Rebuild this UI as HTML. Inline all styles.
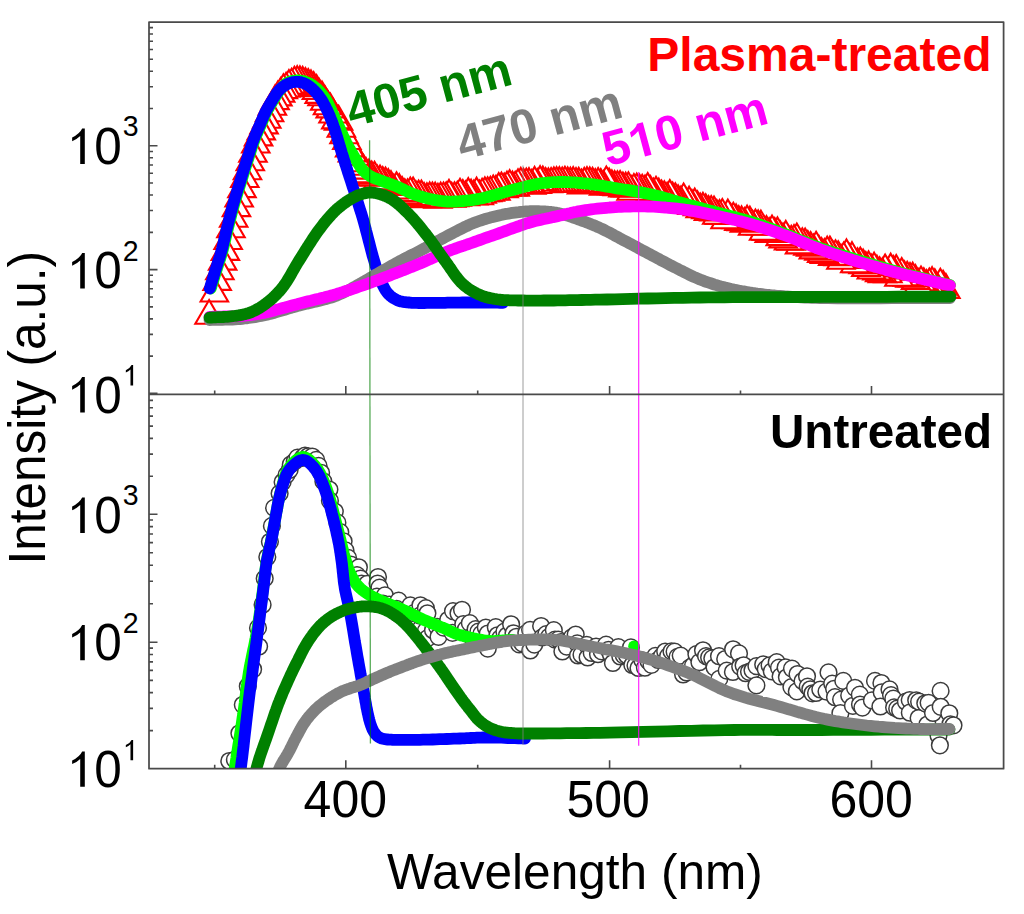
<!DOCTYPE html>
<html><head><meta charset="utf-8"><style>
html,body{margin:0;padding:0;background:#fff;}
body{width:1024px;height:914px;overflow:hidden;font-family:"Liberation Sans",sans-serif;}
svg{display:block;}
</style></head><body>
<svg width="1024" height="914" viewBox="0 0 1024 914">
<defs><clipPath id="ct"><rect x="149.0" y="22.0" width="854.6" height="372.4"/></clipPath><clipPath id="cb"><rect x="149.0" y="394.4" width="854.6" height="374.3"/></clipPath></defs>
<rect width="1024" height="914" fill="#fff"/>
<g clip-path="url(#ct)">
<g fill="#fff" stroke="#ff0000" stroke-width="2.1"><path d="M945.9 274.1L959.6 297.9L932.1 297.9Z"/><path d="M943.1 270.9L956.9 294.7L929.4 294.7Z"/><path d="M940.3 268.8L954.1 292.6L926.6 292.6Z"/><path d="M937.6 273.5L951.3 297.3L923.8 297.3Z"/><path d="M934.8 269.4L948.6 293.2L921.1 293.2Z"/><path d="M932.1 267.2L945.8 291.0L918.3 291.0Z"/><path d="M929.3 268.5L943.1 292.3L915.6 292.3Z"/><path d="M926.5 270.0L940.3 293.9L912.8 293.9Z"/><path d="M923.8 268.3L937.5 292.1L910.0 292.1Z"/><path d="M921.0 266.5L934.8 290.3L907.3 290.3Z"/><path d="M918.3 269.1L932.0 292.9L904.5 292.9Z"/><path d="M915.5 265.2L929.3 289.0L901.8 289.0Z"/><path d="M912.7 262.7L926.5 286.5L899.0 286.5Z"/><path d="M910.0 263.0L923.7 286.8L896.2 286.8Z"/><path d="M907.2 261.8L921.0 285.7L893.5 285.7Z"/><path d="M904.5 261.4L918.2 285.2L890.7 285.2Z"/><path d="M901.7 258.1L915.5 281.9L888.0 281.9Z"/><path d="M898.9 261.9L912.7 285.7L885.2 285.7Z"/><path d="M896.2 255.1L909.9 278.9L882.4 278.9Z"/><path d="M893.4 256.0L907.2 279.8L879.7 279.8Z"/><path d="M890.7 253.7L904.4 277.5L876.9 277.5Z"/><path d="M887.9 258.4L901.6 282.2L874.1 282.2Z"/><path d="M885.1 254.5L898.9 278.4L871.4 278.4Z"/><path d="M882.4 258.3L896.1 282.1L868.6 282.1Z"/><path d="M879.6 257.3L893.4 281.1L865.9 281.1Z"/><path d="M876.9 255.7L890.6 279.5L863.1 279.5Z"/><path d="M874.1 252.7L887.8 276.5L860.3 276.5Z"/><path d="M871.3 254.7L885.1 278.5L857.6 278.5Z"/><path d="M868.6 251.4L882.3 275.2L854.8 275.2Z"/><path d="M865.8 252.1L879.6 275.9L852.1 275.9Z"/><path d="M863.1 249.5L876.8 273.3L849.3 273.3Z"/><path d="M860.3 247.5L874.0 271.3L846.5 271.3Z"/><path d="M857.5 248.4L871.3 272.2L843.8 272.2Z"/><path d="M854.8 248.5L868.5 272.3L841.0 272.3Z"/><path d="M852.0 242.2L865.8 266.0L838.3 266.0Z"/><path d="M849.3 244.2L863.0 268.0L835.5 268.0Z"/><path d="M846.5 239.4L860.2 263.2L832.7 263.2Z"/><path d="M843.7 242.5L857.5 266.3L830.0 266.3Z"/><path d="M841.0 244.9L854.7 268.7L827.2 268.7Z"/><path d="M838.2 241.3L852.0 265.1L824.5 265.1Z"/><path d="M835.5 240.3L849.2 264.1L821.7 264.1Z"/><path d="M832.7 241.1L846.4 264.9L818.9 264.9Z"/><path d="M829.9 236.6L843.7 260.4L816.2 260.4Z"/><path d="M827.2 236.7L840.9 260.6L813.4 260.6Z"/><path d="M824.4 239.1L838.2 262.9L810.7 262.9Z"/><path d="M821.6 238.2L835.4 262.0L807.9 262.0Z"/><path d="M818.9 235.9L832.6 259.8L805.1 259.8Z"/><path d="M816.1 231.8L829.9 255.6L802.4 255.6Z"/><path d="M813.4 234.6L827.1 258.4L799.6 258.4Z"/><path d="M810.6 232.0L824.4 255.8L796.9 255.8Z"/><path d="M807.8 231.0L821.6 254.8L794.1 254.8Z"/><path d="M805.1 228.5L818.8 252.3L791.3 252.3Z"/><path d="M802.3 228.3L816.1 252.1L788.6 252.1Z"/><path d="M799.6 229.5L813.3 253.4L785.8 253.4Z"/><path d="M796.8 223.5L810.6 247.3L783.1 247.3Z"/><path d="M794.0 225.1L807.8 248.9L780.3 248.9Z"/><path d="M791.3 225.9L805.0 249.7L777.5 249.7Z"/><path d="M788.5 225.7L802.3 249.5L774.8 249.5Z"/><path d="M785.8 220.9L799.5 244.8L772.0 244.8Z"/><path d="M783.0 223.6L796.8 247.4L769.3 247.4Z"/><path d="M780.2 221.3L794.0 245.1L766.5 245.1Z"/><path d="M777.5 217.4L791.2 241.2L763.7 241.2Z"/><path d="M774.7 218.1L788.5 241.9L761.0 241.9Z"/><path d="M772.0 215.6L785.7 239.4L758.2 239.4Z"/><path d="M769.2 218.2L783.0 242.0L755.5 242.0Z"/><path d="M766.4 216.1L780.2 239.9L752.7 239.9Z"/><path d="M763.7 215.8L777.4 239.7L749.9 239.7Z"/><path d="M760.9 210.7L774.7 234.5L747.2 234.5Z"/><path d="M758.2 210.4L771.9 234.2L744.4 234.2Z"/><path d="M755.4 209.5L769.1 233.3L741.6 233.3Z"/><path d="M752.6 210.9L766.4 234.7L738.9 234.7Z"/><path d="M749.9 206.7L763.6 230.5L736.1 230.5Z"/><path d="M747.1 205.7L760.9 229.5L733.4 229.5Z"/><path d="M744.4 208.0L758.1 231.8L730.6 231.8Z"/><path d="M741.6 206.4L755.3 230.2L727.8 230.2Z"/><path d="M738.8 206.2L752.6 230.0L725.1 230.0Z"/><path d="M736.1 204.4L749.8 228.2L722.3 228.2Z"/><path d="M733.3 202.8L747.1 226.6L719.6 226.6Z"/><path d="M730.6 203.7L744.3 227.5L716.8 227.5Z"/><path d="M727.8 199.6L741.5 223.4L714.0 223.4Z"/><path d="M725.0 204.5L738.8 228.3L711.3 228.3Z"/><path d="M722.3 199.0L736.0 222.9L708.5 222.9Z"/><path d="M719.5 200.1L733.3 224.0L705.8 224.0Z"/><path d="M716.8 200.0L730.5 223.8L703.0 223.8Z"/><path d="M714.0 196.6L727.7 220.4L700.2 220.4Z"/><path d="M711.2 196.0L725.0 219.9L697.5 219.9Z"/><path d="M708.5 196.1L722.2 219.9L694.7 219.9Z"/><path d="M705.7 194.3L719.5 218.1L692.0 218.1Z"/><path d="M702.9 192.9L716.7 216.7L689.2 216.7Z"/><path d="M700.2 193.5L713.9 217.3L686.4 217.3Z"/><path d="M697.4 191.4L711.2 215.2L683.7 215.2Z"/><path d="M694.7 188.6L708.4 212.4L680.9 212.4Z"/><path d="M691.9 190.1L705.7 213.9L678.2 213.9Z"/><path d="M689.1 186.7L702.9 210.6L675.4 210.6Z"/><path d="M686.4 188.6L700.1 212.4L672.6 212.4Z"/><path d="M683.6 183.5L697.4 207.3L669.9 207.3Z"/><path d="M680.9 186.7L694.6 210.5L667.1 210.5Z"/><path d="M678.1 185.3L691.9 209.1L664.4 209.1Z"/><path d="M675.3 183.3L689.1 207.1L661.6 207.1Z"/><path d="M672.6 182.5L686.3 206.3L658.8 206.3Z"/><path d="M669.8 180.1L683.6 203.9L656.1 203.9Z"/><path d="M667.1 182.8L680.8 206.6L653.3 206.6Z"/><path d="M664.3 181.3L678.1 205.1L650.6 205.1Z"/><path d="M661.5 180.6L675.3 204.4L647.8 204.4Z"/><path d="M658.8 178.7L672.5 202.5L645.0 202.5Z"/><path d="M656.0 176.8L669.8 200.6L642.3 200.6Z"/><path d="M653.3 178.5L667.0 202.3L639.5 202.3Z"/><path d="M650.5 176.2L664.3 200.0L636.8 200.0Z"/><path d="M647.7 173.1L661.5 196.9L634.0 196.9Z"/><path d="M645.0 175.5L658.7 199.3L631.2 199.3Z"/><path d="M642.2 174.8L656.0 198.6L628.5 198.6Z"/><path d="M639.5 174.5L653.2 198.3L625.7 198.3Z"/><path d="M636.7 173.5L650.4 197.4L622.9 197.4Z"/><path d="M633.9 174.1L647.7 197.9L620.2 197.9Z"/><path d="M631.2 176.0L644.9 199.8L617.4 199.8Z"/><path d="M628.4 172.3L642.2 196.1L614.7 196.1Z"/><path d="M625.7 172.7L639.4 196.5L611.9 196.5Z"/><path d="M622.9 172.6L636.6 196.4L609.1 196.4Z"/><path d="M620.1 171.0L633.9 194.8L606.4 194.8Z"/><path d="M617.4 171.3L631.1 195.1L603.6 195.1Z"/><path d="M614.6 171.0L628.4 194.8L600.9 194.8Z"/><path d="M611.9 170.4L625.6 194.2L598.1 194.2Z"/><path d="M609.1 168.5L622.8 192.3L595.3 192.3Z"/><path d="M606.3 166.5L620.1 190.3L592.6 190.3Z"/><path d="M603.6 171.0L617.3 194.8L589.8 194.8Z"/><path d="M600.8 169.1L614.6 192.9L587.1 192.9Z"/><path d="M598.1 168.0L611.8 191.9L584.3 191.9Z"/><path d="M595.3 169.2L609.0 193.0L581.5 193.0Z"/><path d="M592.5 167.9L606.3 191.8L578.8 191.8Z"/><path d="M589.8 167.4L603.5 191.2L576.0 191.2Z"/><path d="M587.0 167.2L600.8 191.0L573.3 191.0Z"/><path d="M584.3 167.9L598.0 191.7L570.5 191.7Z"/><path d="M581.5 169.6L595.2 193.4L567.7 193.4Z"/><path d="M578.7 167.9L592.5 191.7L565.0 191.7Z"/><path d="M576.0 168.1L589.7 191.9L562.2 191.9Z"/><path d="M573.2 167.2L587.0 191.0L559.5 191.0Z"/><path d="M570.4 167.7L584.2 191.5L556.7 191.5Z"/><path d="M567.7 167.4L581.4 191.2L553.9 191.2Z"/><path d="M564.9 166.8L578.7 190.6L551.2 190.6Z"/><path d="M562.2 167.6L575.9 191.5L548.4 191.5Z"/><path d="M559.4 167.2L573.2 191.0L545.7 191.0Z"/><path d="M556.6 167.2L570.4 191.0L542.9 191.0Z"/><path d="M553.9 167.4L567.6 191.2L540.1 191.2Z"/><path d="M551.1 168.0L564.9 191.9L537.4 191.9Z"/><path d="M548.4 168.4L562.1 192.2L534.6 192.2Z"/><path d="M545.6 168.0L559.4 191.8L531.9 191.8Z"/><path d="M542.8 166.6L556.6 190.4L529.1 190.4Z"/><path d="M540.1 166.2L553.8 190.0L526.3 190.0Z"/><path d="M537.3 169.2L551.1 193.0L523.6 193.0Z"/><path d="M534.6 166.9L548.3 190.7L520.8 190.7Z"/><path d="M531.8 169.8L545.6 193.6L518.1 193.6Z"/><path d="M529.0 168.2L542.8 192.0L515.3 192.0Z"/><path d="M526.3 168.6L540.0 192.4L512.5 192.4Z"/><path d="M523.5 168.9L537.3 192.7L509.8 192.7Z"/><path d="M520.8 167.9L534.5 191.7L507.0 191.7Z"/><path d="M518.0 169.3L531.7 193.1L504.2 193.1Z"/><path d="M515.2 171.8L529.0 195.6L501.5 195.6Z"/><path d="M512.5 171.7L526.2 195.5L498.7 195.5Z"/><path d="M509.7 170.2L523.5 194.0L496.0 194.0Z"/><path d="M507.0 171.7L520.7 195.6L493.2 195.6Z"/><path d="M504.2 173.5L517.9 197.3L490.4 197.3Z"/><path d="M501.4 172.6L515.2 196.4L487.7 196.4Z"/><path d="M498.7 173.1L512.4 196.9L484.9 196.9Z"/><path d="M495.9 175.9L509.7 199.7L482.2 199.7Z"/><path d="M493.2 175.5L506.9 199.3L479.4 199.3Z"/><path d="M490.4 176.9L504.1 200.7L476.6 200.7Z"/><path d="M487.6 177.3L501.4 201.1L473.9 201.1Z"/><path d="M484.9 177.4L498.6 201.2L471.1 201.2Z"/><path d="M482.1 178.8L495.9 202.6L468.4 202.6Z"/><path d="M479.4 180.5L493.1 204.3L465.6 204.3Z"/><path d="M476.6 177.7L490.3 201.5L462.8 201.5Z"/><path d="M473.8 180.7L487.6 204.5L460.1 204.5Z"/><path d="M471.1 179.7L484.8 203.5L457.3 203.5Z"/><path d="M468.3 178.2L482.1 202.0L454.6 202.0Z"/><path d="M465.6 181.4L479.3 205.2L451.8 205.2Z"/><path d="M462.8 180.1L476.5 203.9L449.0 203.9Z"/><path d="M460.0 178.8L473.8 202.6L446.3 202.6Z"/><path d="M457.3 181.8L471.0 205.6L443.5 205.6Z"/><path d="M454.5 182.4L468.3 206.2L440.8 206.2Z"/><path d="M451.7 182.9L465.5 206.7L438.0 206.7Z"/><path d="M449.0 179.9L462.7 203.7L435.2 203.7Z"/><path d="M446.2 182.4L460.0 206.2L432.5 206.2Z"/><path d="M443.5 182.5L457.2 206.3L429.7 206.3Z"/><path d="M440.7 182.7L454.5 206.5L427.0 206.5Z"/><path d="M437.9 183.9L451.7 207.7L424.2 207.7Z"/><path d="M435.2 182.7L448.9 206.5L421.4 206.5Z"/><path d="M432.4 182.5L446.2 206.3L418.7 206.3Z"/><path d="M429.7 182.4L443.4 206.2L415.9 206.2Z"/><path d="M426.9 183.4L440.7 207.2L413.2 207.2Z"/><path d="M424.1 183.1L437.9 206.9L410.4 206.9Z"/><path d="M421.4 180.5L435.1 204.3L407.6 204.3Z"/><path d="M418.6 180.6L432.4 204.4L404.9 204.4Z"/><path d="M415.9 181.3L429.6 205.1L402.1 205.1Z"/><path d="M413.1 177.5L426.9 201.3L399.4 201.3Z"/><path d="M410.3 177.5L424.1 201.3L396.6 201.3Z"/><path d="M407.6 179.4L421.3 203.2L393.8 203.2Z"/><path d="M404.8 179.4L418.6 203.3L391.1 203.3Z"/><path d="M402.1 177.1L415.8 200.9L388.3 200.9Z"/><path d="M399.3 174.2L413.1 198.0L385.6 198.0Z"/><path d="M396.5 172.4L410.3 196.2L382.8 196.2Z"/><path d="M393.8 174.7L407.5 198.5L380.0 198.5Z"/><path d="M391.0 171.2L404.8 195.0L377.3 195.0Z"/><path d="M388.3 169.2L402.0 193.1L374.5 193.1Z"/><path d="M385.5 167.5L399.2 191.3L371.7 191.3Z"/><path d="M382.7 167.0L396.5 190.8L369.0 190.8Z"/><path d="M380.0 165.5L393.7 189.4L366.2 189.4Z"/><path d="M377.2 165.5L391.0 189.3L363.5 189.3Z"/><path d="M374.5 161.8L388.2 185.6L360.7 185.6Z"/><path d="M371.7 161.5L385.4 185.3L357.9 185.3Z"/><path d="M368.9 159.7L382.7 183.5L355.2 183.5Z"/><path d="M366.2 158.4L379.9 182.2L352.4 182.2Z"/><path d="M363.4 154.8L377.2 178.6L349.7 178.6Z"/><path d="M360.7 151.0L374.4 174.8L346.9 174.8Z"/><path d="M357.9 147.5L371.6 171.3L344.1 171.3Z"/><path d="M355.1 140.8L368.9 164.7L341.4 164.7Z"/><path d="M352.4 137.6L366.1 161.4L338.6 161.4Z"/><path d="M349.6 132.6L363.4 156.4L335.9 156.4Z"/><path d="M346.9 125.2L360.6 149.0L333.1 149.0Z"/><path d="M344.1 119.3L357.8 143.2L330.3 143.2Z"/><path d="M341.3 113.0L355.1 136.8L327.6 136.8Z"/><path d="M338.6 105.8L352.3 129.6L324.8 129.6Z"/><path d="M335.8 104.6L349.6 128.4L322.1 128.4Z"/><path d="M333.0 98.6L346.8 122.5L319.3 122.5Z"/><path d="M330.3 93.6L344.0 117.4L316.5 117.4Z"/><path d="M327.5 90.4L341.3 114.2L313.8 114.2Z"/><path d="M324.8 86.0L338.5 109.8L311.0 109.8Z"/><path d="M322.0 81.5L335.8 105.3L308.3 105.3Z"/><path d="M319.2 79.1L333.0 102.9L305.5 102.9Z"/><path d="M316.5 75.1L330.2 98.9L302.7 98.9Z"/><path d="M313.7 72.2L327.5 96.0L300.0 96.0Z"/><path d="M311.0 70.4L324.7 94.2L297.2 94.2Z"/><path d="M308.2 69.1L322.0 92.9L294.5 92.9Z"/><path d="M305.4 68.1L319.2 91.9L291.7 91.9Z"/><path d="M302.7 66.9L316.4 90.7L288.9 90.7Z"/><path d="M299.9 66.4L313.7 90.2L286.2 90.2Z"/><path d="M297.2 66.2L310.9 90.0L283.4 90.0Z"/><path d="M294.4 66.8L308.2 90.6L280.7 90.6Z"/><path d="M291.6 68.8L305.4 92.6L277.9 92.6Z"/><path d="M288.9 70.1L302.6 93.9L275.1 93.9Z"/><path d="M286.1 72.8L299.9 96.6L272.4 96.6Z"/><path d="M283.4 74.3L297.1 98.1L269.6 98.1Z"/><path d="M280.6 78.0L294.4 101.8L266.9 101.8Z"/><path d="M277.8 81.6L291.6 105.4L264.1 105.4Z"/><path d="M275.1 85.3L288.8 109.1L261.3 109.1Z"/><path d="M272.3 90.9L286.1 114.7L258.6 114.7Z"/><path d="M269.6 97.5L283.3 121.3L255.8 121.3Z"/><path d="M266.8 104.0L280.5 127.8L253.0 127.8Z"/><path d="M264.0 109.6L277.8 133.4L250.3 133.4Z"/><path d="M261.3 115.6L275.0 139.4L247.5 139.4Z"/><path d="M258.5 121.6L272.3 145.4L244.8 145.4Z"/><path d="M255.8 128.7L269.5 152.5L242.0 152.5Z"/><path d="M253.0 137.9L266.7 161.7L239.2 161.7Z"/><path d="M250.2 146.5L264.0 170.3L236.5 170.3Z"/><path d="M247.5 155.4L261.2 179.3L233.7 179.3Z"/><path d="M244.7 163.2L258.5 187.0L231.0 187.0Z"/><path d="M242.0 173.3L255.7 197.1L228.2 197.1Z"/><path d="M239.2 182.7L252.9 206.5L225.4 206.5Z"/><path d="M236.4 192.3L250.2 216.1L222.7 216.1Z"/><path d="M233.7 202.9L247.4 226.8L219.9 226.8Z"/><path d="M230.9 213.5L244.7 237.3L217.2 237.3Z"/><path d="M228.2 225.2L241.9 249.0L214.4 249.0Z"/><path d="M225.4 236.1L239.1 259.9L211.6 259.9Z"/><path d="M222.6 245.8L236.4 269.6L208.9 269.6Z"/><path d="M219.9 255.5L233.6 279.3L206.1 279.3Z"/><path d="M217.1 266.1L230.9 289.9L203.4 289.9Z"/><path d="M214.4 277.7L228.1 301.5L200.6 301.5Z"/><path d="M209.1 300.0L222.8 323.8L195.3 323.8Z"/></g>
<path d="M210.8 288.5L211.3 287.0L211.7 285.4L212.2 283.9L212.7 282.3L213.2 280.8L213.6 279.3L214.1 277.7L214.6 276.2L215.1 274.6L215.5 273.1L216.0 271.6L216.5 270.0L217.0 268.4L217.5 266.8L218.0 265.3L218.5 263.7L219.0 262.1L219.5 260.5L220.1 258.9L220.6 257.3L221.1 255.7L221.5 254.1L222.0 252.5L222.5 250.8L223.0 249.0L223.5 247.1L223.9 245.3L224.4 243.4L224.8 241.5L225.3 239.5L225.7 237.6L226.2 235.7L226.6 233.8L227.1 231.8L227.5 229.9L228.0 228.0L228.5 226.1L229.0 224.2L229.4 222.2L229.9 220.3L230.4 218.4L230.9 216.5L231.4 214.5L231.9 212.6L232.4 210.7L232.9 208.8L233.5 206.8L234.0 204.9L234.6 202.9L235.2 200.9L235.7 198.9L236.4 196.9L237.0 194.9L237.6 192.9L238.2 190.9L238.8 188.9L239.5 186.9L240.1 184.9L240.7 183.0L241.3 181.0L241.9 179.1L242.5 177.2L243.0 175.4L243.6 173.5L244.2 171.6L244.8 169.8L245.3 167.9L245.9 166.1L246.5 164.3L247.1 162.5L247.6 160.7L248.2 158.9L248.7 157.3L249.2 155.6L249.8 154.0L250.3 152.4L250.8 150.8L251.3 149.2L251.8 147.6L252.3 146.1L252.9 144.5L253.4 143.0L253.9 141.5L254.5 140.0L255.0 138.6L255.5 137.3L256.1 136.0L256.6 134.6L257.2 133.3L257.7 132.0L258.3 130.7L258.8 129.5L259.4 128.2L259.9 127.0L260.5 125.7L261.0 124.5L261.5 123.4L261.9 122.3L262.4 121.2L262.8 120.2L263.3 119.1L263.7 118.1L264.2 117.0L264.6 116.0L265.1 115.0L265.5 114.0L266.0 113.0L266.5 112.0L267.0 111.1L267.4 110.2L267.9 109.3L268.4 108.4L268.9 107.6L269.4 106.7L269.9 105.8L270.4 105.0L270.9 104.1L271.4 103.3L272.0 102.4L272.5 101.5L273.1 100.5L273.7 99.6L274.3 98.6L274.9 97.6L275.5 96.6L276.1 95.6L276.8 94.6L277.4 93.6L278.0 92.6L278.7 91.7L279.3 90.8L280.0 90.0L280.6 89.3L281.1 88.6L281.7 88.0L282.2 87.3L282.8 86.7L283.3 86.1L283.9 85.5L284.5 84.9L285.1 84.4L285.7 83.9L286.3 83.4L287.0 83.0L287.7 82.6L288.4 82.3L289.1 82.0L289.8 81.7L290.6 81.5L291.3 81.2L292.1 81.1L292.9 80.9L293.7 80.8L294.4 80.6L295.2 80.6L296.0 80.5L296.8 80.5L297.6 80.5L298.5 80.5L299.3 80.5L300.2 80.6L301.0 80.7L301.8 80.9L302.7 81.1L303.5 81.2L304.4 81.5L305.2 81.7L306.0 82.0L306.9 82.3L307.7 82.7L308.6 83.1L309.4 83.5L310.3 84.0L311.1 84.5L312.0 85.0L312.8 85.6L313.6 86.1L314.4 86.7L315.2 87.4L316.0 88.0L316.9 88.7L317.7 89.5L318.6 90.4L319.4 91.2L320.2 92.1L321.0 93.1L321.8 94.0L322.6 95.0L323.4 96.0L324.1 97.0L324.8 98.0L325.5 99.0L326.2 100.1L326.8 101.2L327.5 102.3L328.1 103.5L328.6 104.6L329.2 105.8L329.7 107.0L330.3 108.2L330.8 109.4L331.4 110.6L331.9 111.8L332.5 113.0L333.1 114.2L333.7 115.5L334.3 116.7L334.8 117.9L335.4 119.2L336.0 120.4L336.6 121.7L337.2 122.9L337.7 124.2L338.3 125.5L338.9 126.7L339.5 128.0L340.1 129.3L340.7 130.7L341.3 132.0L341.9 133.3L342.6 134.7L343.2 136.1L343.8 137.4L344.4 138.7L345.1 140.1L345.7 141.4L346.3 142.7L347.0 144.0L347.6 145.2L348.3 146.4L348.9 147.6L349.6 148.8L350.3 150.0L351.0 151.2L351.6 152.4L352.3 153.5L353.0 154.7L353.7 155.8L354.3 156.9L355.0 158.0L355.6 159.0L356.2 160.0L356.7 160.9L357.3 161.9L357.8 162.9L358.4 163.8L359.0 164.7L359.5 165.6L360.1 166.5L360.7 167.4L361.3 168.2L362.0 169.0L362.6 169.7L363.2 170.4L363.8 171.0L364.4 171.6L365.1 172.2L365.7 172.8L366.4 173.4L367.1 173.9L367.8 174.5L368.5 175.0L369.2 175.5L370.0 176.0L370.9 176.5L371.8 177.0L372.7 177.4L373.7 177.9L374.7 178.3L375.7 178.7L376.7 179.0L377.7 179.4L378.8 179.8L379.9 180.2L380.9 180.6L382.0 181.0L383.3 181.5L384.5 182.0L385.9 182.5L387.2 182.9L388.6 183.4L389.9 183.9L391.3 184.4L392.7 184.9L394.0 185.4L395.4 185.9L396.7 186.5L398.0 187.0L399.2 187.5L400.4 188.1L401.5 188.6L402.7 189.2L403.8 189.7L404.9 190.3L406.1 190.9L407.2 191.4L408.4 192.0L409.6 192.5L410.8 193.0L412.0 193.5L413.4 194.0L414.8 194.6L416.3 195.1L417.8 195.6L419.3 196.1L420.8 196.5L422.4 197.0L423.9 197.5L425.5 197.9L427.0 198.3L428.5 198.7L430.0 199.0L431.4 199.3L432.8 199.6L434.3 199.9L435.7 200.1L437.1 200.4L438.5 200.6L440.0 200.8L441.4 201.0L442.8 201.2L444.2 201.3L445.6 201.4L447.0 201.5L448.3 201.6L449.7 201.6L451.0 201.6L452.3 201.6L453.7 201.6L455.0 201.5L456.3 201.5L457.6 201.4L458.9 201.3L460.3 201.2L461.6 201.1L463.0 201.0L464.4 200.9L465.9 200.7L467.3 200.6L468.7 200.4L470.1 200.3L471.6 200.1L473.1 199.9L474.5 199.7L476.1 199.4L477.7 199.1L479.3 198.8L481.0 198.5L483.5 197.9L486.3 197.3L489.1 196.5L492.1 195.7L495.1 194.9L498.2 194.0L501.3 193.1L504.4 192.2L507.4 191.3L510.4 190.5L513.3 189.7L516.0 189.0L518.2 188.5L520.3 187.9L522.3 187.4L524.3 186.9L526.3 186.4L528.3 185.9L530.2 185.4L532.2 185.0L534.1 184.5L536.1 184.2L538.0 183.8L540.0 183.5L541.9 183.2L543.8 183.0L545.7 182.8L547.5 182.6L549.4 182.5L551.2 182.3L553.1 182.2L555.0 182.1L556.9 182.1L558.8 182.0L560.7 182.0L562.7 182.0L564.9 182.0L567.1 182.1L569.4 182.2L571.7 182.3L574.0 182.4L576.3 182.6L578.6 182.8L580.9 183.0L583.2 183.3L585.5 183.5L587.8 183.7L590.0 184.0L592.1 184.3L594.3 184.5L596.4 184.9L598.4 185.2L600.5 185.5L602.6 185.8L604.6 186.2L606.7 186.6L608.9 186.9L611.0 187.3L613.2 187.7L615.5 188.1L618.2 188.6L621.0 189.0L623.9 189.5L626.8 189.9L629.7 190.4L632.7 190.9L635.7 191.4L638.7 191.9L641.7 192.5L644.7 193.1L647.7 193.7L650.6 194.3L653.6 195.0L656.5 195.7L659.5 196.5L662.5 197.3L665.5 198.1L668.4 199.0L671.4 199.9L674.3 200.7L677.2 201.6L680.1 202.4L683.0 203.2L685.8 204.0L688.3 204.7L690.8 205.4L693.2 206.0L695.6 206.7L698.0 207.4L700.4 208.0L702.8 208.7L705.2 209.3L707.6 210.0L710.0 210.6L712.5 211.3L715.0 212.0L717.8 212.8L720.7 213.5L723.5 214.3L726.4 215.0L729.4 215.8L732.3 216.5L735.3 217.3L738.2 218.1L741.2 218.9L744.2 219.7L747.1 220.6L750.0 221.5L752.9 222.4L755.9 223.4L758.8 224.4L761.7 225.4L764.6 226.4L767.5 227.5L770.5 228.5L773.4 229.6L776.3 230.7L779.2 231.8L782.1 232.9L785.0 234.0L787.9 235.1L790.8 236.3L793.7 237.5L796.6 238.7L799.6 239.9L802.5 241.1L805.4 242.3L808.3 243.5L811.2 244.6L814.1 245.8L817.1 246.9L820.0 248.0L823.0 249.0L825.9 250.1L828.8 251.0L831.8 252.0L834.7 253.0L837.7 253.9L840.7 254.8L843.7 255.7L846.7 256.7L849.8 257.6L852.9 258.5L856.0 259.5L859.5 260.6L863.0 261.7L866.6 262.8L870.2 263.9L873.9 265.0L877.5 266.1L881.2 267.1L884.9 268.2L888.7 269.3L892.4 270.4L896.2 271.5L900.0 272.5L904.0 273.6L908.1 274.7L912.3 275.7L916.4 276.8L920.6 277.8L924.8 278.8L929.0 279.9L933.2 280.9L937.4 281.9L941.6 282.9L945.8 284.0L950.0 285.0" fill="none" stroke="#00ff00" stroke-width="11.8" stroke-linecap="round" stroke-linejoin="round"/>
<path d="M209.8 288.5L210.3 287.0L210.7 285.4L211.2 283.9L211.7 282.3L212.2 280.8L212.6 279.3L213.1 277.7L213.6 276.2L214.1 274.6L214.5 273.1L215.0 271.6L215.5 270.0L216.0 268.4L216.5 266.8L217.0 265.3L217.5 263.7L218.0 262.1L218.5 260.5L219.1 258.9L219.6 257.3L220.1 255.7L220.5 254.1L221.0 252.5L221.5 250.8L222.0 249.0L222.5 247.1L222.9 245.3L223.4 243.4L223.8 241.5L224.3 239.5L224.7 237.6L225.2 235.7L225.6 233.8L226.1 231.8L226.5 229.9L227.0 228.0L227.5 226.1L228.0 224.2L228.4 222.2L228.9 220.3L229.4 218.4L229.9 216.5L230.4 214.5L230.9 212.6L231.4 210.7L231.9 208.8L232.5 206.8L233.0 204.9L233.6 202.9L234.2 200.9L234.7 198.9L235.4 196.9L236.0 194.9L236.6 192.9L237.2 190.9L237.8 188.9L238.5 186.9L239.1 184.9L239.7 183.0L240.3 181.0L240.9 179.1L241.5 177.2L242.0 175.4L242.6 173.5L243.2 171.6L243.8 169.8L244.3 167.9L244.9 166.1L245.5 164.3L246.1 162.5L246.6 160.7L247.2 158.9L247.7 157.3L248.2 155.6L248.8 154.0L249.3 152.4L249.8 150.8L250.3 149.2L250.8 147.6L251.3 146.1L251.9 144.5L252.4 143.0L252.9 141.5L253.5 140.0L254.0 138.6L254.5 137.3L255.1 136.0L255.6 134.6L256.2 133.3L256.7 132.0L257.3 130.7L257.8 129.5L258.4 128.2L258.9 127.0L259.5 125.7L260.0 124.5L260.5 123.4L260.9 122.3L261.4 121.2L261.8 120.2L262.3 119.1L262.7 118.1L263.2 117.0L263.6 116.0L264.1 115.0L264.5 114.0L265.0 113.0L265.5 112.0L266.0 111.1L266.4 110.2L266.9 109.3L267.4 108.4L267.9 107.5L268.4 106.7L268.9 105.8L269.4 105.0L269.9 104.1L270.4 103.2L271.0 102.4L271.5 101.5L272.1 100.5L272.7 99.5L273.3 98.5L273.9 97.5L274.6 96.5L275.2 95.5L275.8 94.5L276.5 93.5L277.2 92.5L277.9 91.6L278.6 90.8L279.3 90.0L279.9 89.4L280.6 88.8L281.2 88.2L281.9 87.6L282.6 87.1L283.2 86.5L283.9 86.1L284.6 85.6L285.3 85.2L286.0 84.7L286.8 84.4L287.5 84.0L288.2 83.7L288.9 83.4L289.7 83.1L290.4 82.9L291.2 82.6L292.0 82.4L292.7 82.2L293.5 82.1L294.3 82.0L295.0 81.9L295.8 81.8L296.5 81.8L297.2 81.8L297.9 81.8L298.6 81.9L299.2 82.0L299.9 82.1L300.6 82.2L301.2 82.4L301.9 82.6L302.6 82.8L303.2 83.0L303.9 83.2L304.5 83.5L305.2 83.8L305.8 84.1L306.5 84.5L307.1 84.8L307.7 85.2L308.3 85.6L309.0 86.1L309.6 86.5L310.2 87.0L310.8 87.5L311.4 88.0L312.0 88.5L312.7 89.1L313.4 89.8L314.1 90.5L314.8 91.2L315.5 91.9L316.1 92.6L316.8 93.4L317.5 94.2L318.1 95.0L318.8 95.8L319.4 96.7L320.0 97.5L320.6 98.4L321.3 99.4L321.9 100.4L322.5 101.4L323.1 102.4L323.7 103.5L324.2 104.5L324.8 105.6L325.4 106.7L325.9 107.8L326.5 108.9L327.0 110.0L327.6 111.2L328.2 112.5L328.7 113.7L329.2 115.0L329.8 116.2L330.3 117.5L330.8 118.9L331.4 120.2L331.9 121.6L332.4 123.0L333.0 124.5L333.5 126.0L334.2 128.1L335.0 130.3L335.7 132.6L336.5 135.0L337.2 137.5L338.0 140.0L338.7 142.5L339.5 145.0L340.2 147.6L341.0 150.1L341.7 152.6L342.5 155.0L343.2 157.4L344.0 159.8L344.8 162.1L345.5 164.5L346.3 166.9L347.1 169.3L347.8 171.7L348.6 174.0L349.3 176.3L350.1 178.6L350.8 180.8L351.5 183.0L352.1 184.8L352.6 186.5L353.2 188.2L353.8 189.9L354.3 191.6L354.8 193.2L355.4 194.8L355.9 196.5L356.4 198.1L357.0 199.7L357.5 201.3L358.0 203.0L358.5 204.6L359.0 206.2L359.5 207.8L360.0 209.4L360.5 210.9L361.0 212.5L361.5 214.1L362.0 215.7L362.5 217.4L363.0 219.1L363.5 220.9L364.0 222.7L364.7 225.3L365.5 228.1L366.2 231.0L367.0 234.0L367.8 237.1L368.6 240.2L369.4 243.3L370.2 246.4L371.0 249.4L371.8 252.4L372.5 255.2L373.3 257.9L373.9 259.9L374.5 262.0L375.1 263.9L375.6 265.9L376.2 267.8L376.8 269.7L377.4 271.5L377.9 273.3L378.5 275.0L379.2 276.7L379.8 278.4L380.5 280.0L381.1 281.3L381.6 282.6L382.2 283.8L382.7 285.0L383.3 286.2L383.9 287.4L384.5 288.5L385.2 289.6L385.8 290.6L386.5 291.6L387.2 292.6L388.0 293.5L388.7 294.3L389.5 295.0L390.2 295.7L391.0 296.4L391.8 297.0L392.7 297.6L393.5 298.2L394.4 298.7L395.3 299.2L396.2 299.7L397.1 300.1L398.0 300.5L398.9 300.9L399.8 301.2L400.7 301.4L401.6 301.6L402.6 301.8L403.5 302.0L404.5 302.1L405.5 302.2L406.6 302.3L407.7 302.4L408.8 302.5L410.0 302.6L412.0 302.8L414.2 302.9L416.5 302.9L419.0 303.0L421.5 303.0L424.1 303.0L426.8 302.9L429.5 302.9L432.2 302.9L434.8 302.8L437.5 302.8L440.0 302.8L442.5 302.8L445.0 302.8L447.5 302.7L449.9 302.7L452.4 302.7L454.9 302.6L457.4 302.6L459.9 302.6L462.4 302.5L464.9 302.5L467.4 302.5L470.0 302.5L472.7 302.5L475.4 302.5L478.1 302.5L480.9 302.6L483.6 302.6L486.4 302.6L489.2 302.6L491.9 302.7L494.7 302.7L497.5 302.7L500.2 302.8L503.0 302.8" fill="none" stroke="#0000ff" stroke-width="11.8" stroke-linecap="round" stroke-linejoin="round"/>
<path d="M209.5 320.0L212.1 319.9L214.6 319.9L217.2 319.8L219.8 319.8L222.4 319.8L224.9 319.7L227.5 319.7L230.0 319.6L232.6 319.5L235.1 319.4L237.6 319.2L240.0 319.0L242.2 318.8L244.4 318.5L246.5 318.3L248.6 318.0L250.7 317.7L252.8 317.4L254.9 317.1L256.9 316.7L259.1 316.3L261.2 315.9L263.4 315.5L265.6 315.0L268.2 314.4L270.9 313.7L273.6 313.0L276.3 312.2L279.0 311.4L281.8 310.6L284.6 309.8L287.4 308.9L290.2 308.1L293.0 307.2L295.7 306.5L298.5 305.7L301.3 305.0L304.1 304.3L307.0 303.6L309.9 303.0L312.8 302.3L315.6 301.6L318.5 301.0L321.2 300.3L323.9 299.6L326.5 299.0L329.0 298.2L331.3 297.5L332.9 297.0L334.4 296.4L335.8 295.9L337.1 295.4L338.4 294.8L339.7 294.3L340.9 293.7L342.2 293.2L343.5 292.6L344.8 291.9L346.2 291.2L347.7 290.5L349.8 289.5L351.9 288.3L354.2 287.1L356.4 285.8L358.8 284.5L361.1 283.1L363.5 281.8L365.9 280.4L368.3 279.0L370.6 277.6L372.9 276.3L375.2 275.0L377.3 273.8L379.4 272.6L381.5 271.4L383.7 270.2L385.7 269.0L387.8 267.8L389.9 266.6L392.0 265.4L394.0 264.3L396.0 263.2L398.0 262.1L400.0 261.0L401.7 260.1L403.4 259.2L405.0 258.4L406.7 257.5L408.3 256.7L409.9 255.9L411.5 255.1L413.1 254.3L414.8 253.5L416.5 252.6L418.2 251.7L420.0 250.8L422.3 249.6L424.7 248.3L427.1 246.9L429.7 245.6L432.2 244.1L434.8 242.7L437.4 241.3L440.0 239.9L442.5 238.5L445.1 237.1L447.6 235.8L450.0 234.5L452.1 233.4L454.3 232.3L456.4 231.2L458.4 230.1L460.5 229.1L462.6 228.1L464.6 227.0L466.7 226.1L468.7 225.1L470.8 224.2L472.9 223.3L475.0 222.5L477.1 221.7L479.1 221.0L481.2 220.3L483.3 219.6L485.3 219.0L487.4 218.4L489.5 217.8L491.6 217.2L493.7 216.7L495.8 216.2L497.9 215.7L500.0 215.2L502.1 214.8L504.2 214.3L506.3 213.9L508.4 213.6L510.5 213.2L512.6 212.9L514.8 212.6L516.9 212.3L518.9 212.1L521.0 211.8L523.0 211.7L525.0 211.5L526.7 211.4L528.5 211.3L530.2 211.2L531.9 211.2L533.6 211.2L535.3 211.2L537.0 211.2L538.6 211.2L540.3 211.3L541.9 211.3L543.4 211.4L545.0 211.5L546.3 211.6L547.6 211.7L548.9 211.8L550.1 211.9L551.3 212.0L552.5 212.2L553.7 212.3L554.9 212.5L556.2 212.7L557.4 213.0L558.7 213.2L560.0 213.5L561.6 213.9L563.2 214.3L564.8 214.8L566.5 215.3L568.2 215.8L569.9 216.4L571.6 217.0L573.3 217.6L575.0 218.2L576.7 218.8L578.3 219.4L580.0 220.0L581.7 220.6L583.3 221.2L585.0 221.8L586.6 222.4L588.3 223.1L589.9 223.7L591.6 224.4L593.2 225.0L594.9 225.7L596.6 226.5L598.3 227.2L600.0 228.0L602.0 228.9L604.0 229.9L606.1 231.0L608.2 232.0L610.3 233.1L612.4 234.2L614.5 235.4L616.6 236.5L618.7 237.6L620.8 238.8L622.9 239.9L625.0 241.0L627.1 242.1L629.2 243.2L631.3 244.3L633.3 245.4L635.4 246.5L637.5 247.6L639.6 248.8L641.7 249.9L643.7 251.0L645.8 252.1L647.9 253.2L650.0 254.3L652.1 255.4L654.2 256.5L656.2 257.6L658.3 258.7L660.4 259.9L662.5 261.0L664.6 262.1L666.6 263.2L668.7 264.3L670.8 265.4L672.9 266.4L675.0 267.5L677.1 268.5L679.1 269.6L681.2 270.7L683.3 271.7L685.4 272.8L687.4 273.8L689.5 274.8L691.6 275.8L693.7 276.8L695.8 277.7L697.9 278.6L700.0 279.5L702.1 280.3L704.1 281.1L706.2 281.8L708.3 282.5L710.4 283.2L712.4 283.9L714.5 284.6L716.6 285.2L718.7 285.8L720.8 286.4L722.9 286.9L725.0 287.5L727.1 288.0L729.1 288.5L731.2 289.0L733.2 289.4L735.3 289.9L737.3 290.3L739.4 290.7L741.5 291.1L743.6 291.4L745.7 291.8L747.8 292.2L750.0 292.5L752.4 292.9L754.8 293.2L757.2 293.6L759.6 293.9L762.1 294.2L764.5 294.5L767.0 294.8L769.6 295.0L772.1 295.3L774.7 295.5L777.3 295.8L780.0 296.0L783.1 296.2L786.1 296.5L789.1 296.7L792.1 296.9L795.1 297.1L798.2 297.2L801.4 297.4L804.8 297.5L808.2 297.7L811.9 297.8L815.8 297.9L820.0 298.0L828.2 298.2L837.4 298.3L847.3 298.3L857.8 298.3L868.9 298.3L880.3 298.3L892.1 298.2L903.9 298.2L915.8 298.1L927.5 298.1L938.9 298.0L950.0 298.0" fill="none" stroke="#808080" stroke-width="11.8" stroke-linecap="round" stroke-linejoin="round"/>
<path d="M209.5 316.8L210.8 316.8L212.1 316.8L213.4 316.7L214.7 316.7L216.0 316.7L217.3 316.7L218.6 316.6L219.9 316.6L221.1 316.6L222.4 316.6L223.7 316.5L225.0 316.5L226.3 316.5L227.5 316.4L228.8 316.4L230.1 316.4L231.4 316.4L232.6 316.3L233.9 316.3L235.1 316.2L236.4 316.2L237.6 316.1L238.8 316.1L240.0 316.0L241.0 315.9L242.1 315.9L243.1 315.8L244.1 315.7L245.1 315.6L246.0 315.5L247.0 315.4L248.0 315.3L249.0 315.2L250.0 315.1L251.0 314.9L252.0 314.8L253.1 314.7L254.2 314.5L255.2 314.4L256.3 314.2L257.3 314.0L258.4 313.9L259.5 313.7L260.6 313.5L261.8 313.3L263.0 313.0L264.3 312.8L265.6 312.5L267.9 312.0L270.5 311.4L273.1 310.7L276.0 309.9L278.9 309.1L281.9 308.3L285.0 307.5L288.1 306.6L291.1 305.8L294.2 304.9L297.1 304.2L300.0 303.4L302.7 302.7L305.4 302.0L308.2 301.3L310.9 300.7L313.7 300.0L316.4 299.3L319.1 298.7L321.7 298.0L324.2 297.4L326.7 296.7L329.1 296.1L331.3 295.5L332.8 295.1L334.3 294.7L335.7 294.3L337.0 293.9L338.3 293.5L339.6 293.1L340.9 292.7L342.1 292.3L343.4 291.9L344.8 291.4L346.2 291.0L347.7 290.5L349.8 289.8L351.9 289.1L354.1 288.4L356.4 287.6L358.7 286.8L361.1 286.0L363.5 285.2L365.9 284.3L368.3 283.5L370.6 282.6L372.9 281.8L375.2 281.0L377.3 280.2L379.4 279.4L381.6 278.6L383.7 277.8L385.8 277.0L387.9 276.2L389.9 275.4L392.0 274.6L394.0 273.8L396.0 273.1L398.0 272.3L400.0 271.5L401.7 270.8L403.4 270.2L405.1 269.5L406.7 268.9L408.3 268.2L409.9 267.6L411.5 267.0L413.1 266.3L414.8 265.6L416.5 265.0L418.2 264.2L420.0 263.5L422.3 262.5L424.7 261.5L427.2 260.4L429.8 259.2L432.4 258.1L435.0 256.9L437.6 255.8L440.2 254.6L442.8 253.5L445.3 252.4L447.7 251.4L450.0 250.5L451.8 249.8L453.5 249.2L455.2 248.6L456.8 248.0L458.4 247.4L460.0 246.9L461.6 246.4L463.2 245.8L464.8 245.3L466.5 244.7L468.2 244.1L470.0 243.5L472.3 242.7L474.6 241.9L477.1 241.0L479.6 240.1L482.1 239.2L484.6 238.3L487.2 237.4L489.8 236.5L492.4 235.6L494.9 234.7L497.5 233.8L500.0 232.9L502.5 232.0L505.0 231.1L507.5 230.2L510.0 229.3L512.5 228.4L515.0 227.5L517.5 226.6L520.0 225.7L522.5 224.9L525.0 224.0L527.5 223.2L530.0 222.5L532.5 221.8L535.0 221.1L537.6 220.5L540.2 219.9L542.8 219.3L545.3 218.8L547.9 218.2L550.4 217.7L552.9 217.1L555.3 216.6L557.7 216.1L560.0 215.6L561.8 215.2L563.5 214.8L565.2 214.3L566.8 213.9L568.4 213.5L570.0 213.2L571.6 212.8L573.2 212.4L574.9 212.0L576.6 211.7L578.4 211.3L580.3 211.0L582.9 210.6L585.6 210.2L588.4 209.8L591.3 209.4L594.3 209.0L597.3 208.7L600.3 208.4L603.4 208.1L606.5 207.8L609.5 207.5L612.5 207.3L615.5 207.1L618.4 206.9L621.3 206.8L624.3 206.7L627.2 206.5L630.1 206.5L633.0 206.4L636.0 206.4L638.9 206.4L641.8 206.4L644.8 206.4L647.7 206.5L650.6 206.6L653.5 206.7L656.5 206.9L659.5 207.1L662.5 207.3L665.4 207.5L668.4 207.8L671.4 208.1L674.3 208.4L677.2 208.7L680.1 209.0L683.0 209.4L685.8 209.8L688.3 210.2L690.8 210.6L693.3 211.0L695.7 211.4L698.1 211.9L700.5 212.4L702.9 212.9L705.3 213.4L707.7 213.9L710.2 214.4L712.7 214.9L715.2 215.5L718.0 216.1L720.9 216.7L723.8 217.4L726.7 218.1L729.6 218.7L732.6 219.4L735.5 220.1L738.5 220.9L741.5 221.6L744.4 222.4L747.4 223.2L750.3 224.0L753.2 224.8L756.2 225.7L759.1 226.6L762.1 227.5L765.0 228.5L767.9 229.4L770.9 230.4L773.8 231.4L776.7 232.4L779.7 233.4L782.6 234.5L785.5 235.5L788.4 236.6L791.4 237.7L794.3 238.9L797.2 240.1L800.1 241.3L803.0 242.5L806.0 243.7L808.9 244.9L811.8 246.1L814.7 247.3L817.7 248.4L820.6 249.5L823.5 250.5L826.4 251.6L829.3 252.5L832.1 253.5L835.0 254.5L837.9 255.4L840.8 256.3L843.7 257.3L846.7 258.2L849.7 259.1L852.7 260.1L855.8 261.0L859.3 262.1L862.8 263.1L866.4 264.2L870.0 265.2L873.7 266.3L877.4 267.3L881.1 268.4L884.9 269.4L888.6 270.5L892.4 271.5L896.2 272.5L900.0 273.5L904.1 274.5L908.1 275.6L912.3 276.6L916.4 277.6L920.6 278.6L924.8 279.6L929.0 280.6L933.2 281.5L937.4 282.5L941.6 283.5L945.8 284.5L950.0 285.5" fill="none" stroke="#ff00ff" stroke-width="11.8" stroke-linecap="round" stroke-linejoin="round"/>
<path d="M209.5 317.6L211.5 317.5L213.4 317.4L215.4 317.3L217.4 317.2L219.4 317.2L221.4 317.1L223.4 317.0L225.3 316.9L227.2 316.8L229.1 316.6L231.0 316.4L232.8 316.2L234.3 316.0L235.8 315.8L237.3 315.6L238.8 315.4L240.3 315.1L241.7 314.9L243.1 314.6L244.5 314.3L245.9 313.9L247.3 313.5L248.6 313.1L250.0 312.6L251.4 312.1L252.7 311.5L254.0 310.9L255.4 310.2L256.7 309.5L258.0 308.8L259.3 308.1L260.5 307.3L261.8 306.5L263.1 305.6L264.3 304.7L265.6 303.8L267.0 302.7L268.4 301.6L269.9 300.4L271.3 299.2L272.7 298.0L274.0 296.7L275.4 295.4L276.8 294.0L278.1 292.6L279.5 291.1L280.8 289.6L282.1 288.0L283.6 286.0L285.1 283.9L286.6 281.7L288.0 279.4L289.4 277.1L290.8 274.7L292.2 272.2L293.6 269.8L295.0 267.3L296.5 264.8L297.9 262.4L299.4 260.0L301.0 257.5L302.6 254.9L304.2 252.3L305.8 249.7L307.5 247.1L309.1 244.5L310.8 241.9L312.4 239.4L314.1 236.9L315.7 234.5L317.3 232.2L318.9 230.0L320.2 228.3L321.4 226.7L322.7 225.0L323.9 223.4L325.2 221.9L326.4 220.4L327.7 218.9L328.9 217.5L330.1 216.2L331.2 214.9L332.4 213.7L333.5 212.5L334.3 211.7L335.0 211.0L335.7 210.3L336.4 209.6L337.1 209.0L337.8 208.4L338.5 207.8L339.2 207.2L339.9 206.7L340.6 206.1L341.3 205.6L342.0 205.0L342.7 204.5L343.3 204.0L344.0 203.5L344.6 203.0L345.3 202.6L345.9 202.1L346.6 201.6L347.3 201.2L347.9 200.8L348.6 200.3L349.3 199.9L350.0 199.5L350.7 199.1L351.4 198.7L352.2 198.2L352.9 197.8L353.6 197.4L354.4 197.1L355.1 196.7L355.9 196.3L356.6 196.0L357.4 195.6L358.2 195.3L359.0 195.0L359.9 194.7L360.7 194.4L361.6 194.1L362.5 193.8L363.4 193.6L364.3 193.3L365.3 193.1L366.2 192.9L367.1 192.8L368.1 192.6L369.0 192.5L369.9 192.5L370.8 192.5L371.7 192.5L372.7 192.6L373.6 192.7L374.5 192.9L375.4 193.0L376.4 193.2L377.3 193.4L378.2 193.7L379.2 193.9L380.1 194.2L381.0 194.5L382.0 194.8L382.9 195.1L383.9 195.5L384.9 195.9L385.8 196.2L386.8 196.7L387.8 197.1L388.7 197.6L389.7 198.1L390.7 198.7L391.7 199.3L392.7 199.9L394.1 200.9L395.5 201.9L397.0 203.1L398.5 204.3L400.0 205.6L401.5 207.0L403.0 208.4L404.4 209.8L405.9 211.3L407.4 212.7L408.9 214.2L410.3 215.7L411.8 217.3L413.3 218.9L414.8 220.6L416.3 222.3L417.8 224.1L419.2 225.8L420.7 227.6L422.1 229.4L423.6 231.3L425.0 233.1L426.5 234.9L427.9 236.8L429.4 238.8L430.9 240.8L432.4 242.8L433.8 244.9L435.3 246.9L436.7 249.0L438.2 251.1L439.6 253.2L441.1 255.3L442.6 257.3L444.0 259.4L445.5 261.4L446.9 263.4L448.4 265.4L449.8 267.5L451.2 269.5L452.6 271.6L454.0 273.6L455.4 275.6L456.9 277.5L458.4 279.4L459.9 281.1L461.4 282.8L463.0 284.3L464.4 285.5L465.8 286.6L467.2 287.7L468.6 288.8L470.1 289.7L471.6 290.6L473.0 291.5L474.5 292.3L476.1 293.1L477.6 293.9L479.1 294.5L480.6 295.2L482.0 295.8L483.5 296.3L484.9 296.8L486.4 297.2L487.8 297.6L489.3 297.9L490.8 298.2L492.3 298.5L493.8 298.8L495.2 299.0L496.7 299.3L498.2 299.5L499.6 299.7L501.1 299.9L502.4 300.0L503.8 300.1L505.2 300.1L506.6 300.2L508.0 300.2L509.5 300.3L511.0 300.3L512.5 300.3L514.1 300.4L515.8 300.4L518.2 300.5L520.8 300.5L523.4 300.5L526.1 300.6L528.9 300.6L531.8 300.6L534.7 300.6L537.7 300.6L540.7 300.6L543.8 300.5L546.9 300.5L550.0 300.5L553.8 300.5L557.6 300.4L561.4 300.4L565.3 300.3L569.3 300.2L573.3 300.2L577.5 300.1L581.7 300.0L586.1 299.9L590.6 299.8L595.2 299.7L600.0 299.6L607.1 299.5L614.7 299.3L622.6 299.1L630.8 298.9L639.2 298.7L647.9 298.5L656.6 298.3L665.4 298.1L674.2 297.9L682.9 297.8L691.6 297.6L700.0 297.5L708.3 297.4L716.4 297.3L724.5 297.3L732.6 297.2L740.6 297.2L748.7 297.1L756.9 297.1L765.2 297.1L773.6 297.1L782.2 297.1L791.0 297.0L800.0 297.0L811.5 297.0L823.3 296.9L835.5 296.9L847.9 296.8L860.5 296.8L873.3 296.8L886.2 296.8L899.2 296.7L912.2 296.7L925.1 296.7L937.9 296.6L950.5 296.6" fill="none" stroke="#008000" stroke-width="11.8" stroke-linecap="round" stroke-linejoin="round"/>
</g>
<g clip-path="url(#cb)">
<g fill="#fff" stroke="#3c3c3c" stroke-width="1.5"><circle cx="229.3" cy="761.0" r="8.35"/><circle cx="234.9" cy="759.6" r="8.35"/><circle cx="239.4" cy="733.3" r="8.35"/><circle cx="242.8" cy="704.8" r="8.35"/><circle cx="247.8" cy="686.3" r="8.35"/><circle cx="253.1" cy="669.3" r="8.35"/><circle cx="259.1" cy="646.5" r="8.35"/><circle cx="258.0" cy="627.9" r="8.35"/><circle cx="262.6" cy="604.7" r="8.35"/><circle cx="264.7" cy="578.4" r="8.35"/><circle cx="267.3" cy="557.0" r="8.35"/><circle cx="269.9" cy="541.8" r="8.35"/><circle cx="271.9" cy="525.9" r="8.35"/><circle cx="274.1" cy="507.9" r="8.35"/><circle cx="279.6" cy="493.4" r="8.35"/><circle cx="282.6" cy="482.0" r="8.35"/><circle cx="286.5" cy="474.9" r="8.35"/><circle cx="289.6" cy="470.0" r="8.35"/><circle cx="290.8" cy="464.4" r="8.35"/><circle cx="294.7" cy="461.4" r="8.35"/><circle cx="297.5" cy="457.6" r="8.35"/><circle cx="302.6" cy="457.9" r="8.35"/><circle cx="305.0" cy="455.5" r="8.35"/><circle cx="308.2" cy="456.3" r="8.35"/><circle cx="312.3" cy="456.5" r="8.35"/><circle cx="316.2" cy="459.9" r="8.35"/><circle cx="318.6" cy="465.9" r="8.35"/><circle cx="321.1" cy="472.8" r="8.35"/><circle cx="323.4" cy="481.4" r="8.35"/><circle cx="329.4" cy="489.5" r="8.35"/><circle cx="329.9" cy="500.7" r="8.35"/><circle cx="334.8" cy="511.5" r="8.35"/><circle cx="337.4" cy="522.7" r="8.35"/><circle cx="340.3" cy="532.2" r="8.35"/><circle cx="343.6" cy="541.3" r="8.35"/><circle cx="345.5" cy="550.4" r="8.35"/><circle cx="348.1" cy="557.9" r="8.35"/><circle cx="350.8" cy="564.5" r="8.35"/><circle cx="358.9" cy="567.3" r="8.35"/><circle cx="357.0" cy="575.2" r="8.35"/><circle cx="360.5" cy="578.5" r="8.35"/><circle cx="361.6" cy="583.7" r="8.35"/><circle cx="367.3" cy="583.8" r="8.35"/><circle cx="378.0" cy="577.0" r="8.35"/><circle cx="377.6" cy="583.5" r="8.35"/><circle cx="379.5" cy="587.6" r="8.35"/><circle cx="376.9" cy="596.6" r="8.35"/><circle cx="384.9" cy="595.4" r="8.35"/><circle cx="383.0" cy="603.5" r="8.35"/><circle cx="389.2" cy="604.6" r="8.35"/><circle cx="398.6" cy="600.6" r="8.35"/><circle cx="396.6" cy="608.9" r="8.35"/><circle cx="398.1" cy="613.7" r="8.35"/><circle cx="401.9" cy="614.7" r="8.35"/><circle cx="410.3" cy="605.4" r="8.35"/><circle cx="408.3" cy="617.9" r="8.35"/><circle cx="413.9" cy="613.2" r="8.35"/><circle cx="420.4" cy="605.3" r="8.35"/><circle cx="420.0" cy="615.6" r="8.35"/><circle cx="425.9" cy="608.2" r="8.35"/><circle cx="427.4" cy="613.3" r="8.35"/><circle cx="425.8" cy="630.9" r="8.35"/><circle cx="427.7" cy="638.1" r="8.35"/><circle cx="433.0" cy="630.2" r="8.35"/><circle cx="437.1" cy="626.9" r="8.35"/><circle cx="438.5" cy="636.8" r="8.35"/><circle cx="443.5" cy="627.6" r="8.35"/><circle cx="448.2" cy="619.8" r="8.35"/><circle cx="453.0" cy="611.1" r="8.35"/><circle cx="452.5" cy="632.9" r="8.35"/><circle cx="458.5" cy="613.3" r="8.35"/><circle cx="462.0" cy="609.8" r="8.35"/><circle cx="463.3" cy="624.2" r="8.35"/><circle cx="465.9" cy="629.1" r="8.35"/><circle cx="469.8" cy="623.1" r="8.35"/><circle cx="471.4" cy="636.6" r="8.35"/><circle cx="475.6" cy="629.2" r="8.35"/><circle cx="478.4" cy="631.7" r="8.35"/><circle cx="481.3" cy="633.9" r="8.35"/><circle cx="485.8" cy="627.5" r="8.35"/><circle cx="487.8" cy="633.5" r="8.35"/><circle cx="487.8" cy="648.6" r="8.35"/><circle cx="495.8" cy="627.2" r="8.35"/><circle cx="497.4" cy="635.3" r="8.35"/><circle cx="500.1" cy="638.4" r="8.35"/><circle cx="504.4" cy="631.7" r="8.35"/><circle cx="507.0" cy="635.5" r="8.35"/><circle cx="511.1" cy="624.3" r="8.35"/><circle cx="513.5" cy="633.3" r="8.35"/><circle cx="516.4" cy="636.8" r="8.35"/><circle cx="519.2" cy="644.4" r="8.35"/><circle cx="522.3" cy="643.4" r="8.35"/><circle cx="526.3" cy="633.1" r="8.35"/><circle cx="530.1" cy="629.8" r="8.35"/><circle cx="530.3" cy="650.5" r="8.35"/><circle cx="534.3" cy="644.6" r="8.35"/><circle cx="541.1" cy="626.0" r="8.35"/><circle cx="542.2" cy="637.4" r="8.35"/><circle cx="546.2" cy="634.2" r="8.35"/><circle cx="549.0" cy="636.9" r="8.35"/><circle cx="553.8" cy="630.1" r="8.35"/><circle cx="555.0" cy="639.6" r="8.35"/><circle cx="558.2" cy="639.6" r="8.35"/><circle cx="561.0" cy="642.1" r="8.35"/><circle cx="562.4" cy="651.5" r="8.35"/><circle cx="566.7" cy="646.6" r="8.35"/><circle cx="571.8" cy="637.4" r="8.35"/><circle cx="575.7" cy="634.5" r="8.35"/><circle cx="577.2" cy="643.4" r="8.35"/><circle cx="578.0" cy="655.5" r="8.35"/><circle cx="581.5" cy="654.7" r="8.35"/><circle cx="586.7" cy="644.9" r="8.35"/><circle cx="587.6" cy="657.5" r="8.35"/><circle cx="591.7" cy="653.0" r="8.35"/><circle cx="596.1" cy="646.5" r="8.35"/><circle cx="598.0" cy="654.2" r="8.35"/><circle cx="601.7" cy="651.3" r="8.35"/><circle cx="606.1" cy="644.7" r="8.35"/><circle cx="608.5" cy="649.9" r="8.35"/><circle cx="610.9" cy="654.5" r="8.35"/><circle cx="612.9" cy="663.0" r="8.35"/><circle cx="618.4" cy="647.2" r="8.35"/><circle cx="620.3" cy="656.5" r="8.35"/><circle cx="623.7" cy="655.3" r="8.35"/><circle cx="626.9" cy="655.2" r="8.35"/><circle cx="630.9" cy="647.4" r="8.35"/><circle cx="632.3" cy="665.0" r="8.35"/><circle cx="635.5" cy="665.6" r="8.35"/><circle cx="638.5" cy="668.0" r="8.35"/><circle cx="642.4" cy="660.4" r="8.35"/><circle cx="644.9" cy="667.7" r="8.35"/><circle cx="648.6" cy="661.4" r="8.35"/><circle cx="651.5" cy="664.9" r="8.35"/><circle cx="655.4" cy="655.9" r="8.35"/><circle cx="658.3" cy="660.0" r="8.35"/><circle cx="661.7" cy="656.4" r="8.35"/><circle cx="665.2" cy="651.5" r="8.35"/><circle cx="668.1" cy="656.1" r="8.35"/><circle cx="671.5" cy="651.4" r="8.35"/><circle cx="674.6" cy="651.7" r="8.35"/><circle cx="677.5" cy="656.9" r="8.35"/><circle cx="680.7" cy="655.6" r="8.35"/><circle cx="683.1" cy="674.5" r="8.35"/><circle cx="686.5" cy="672.5" r="8.35"/><circle cx="689.8" cy="667.7" r="8.35"/><circle cx="693.0" cy="665.7" r="8.35"/><circle cx="696.4" cy="654.2" r="8.35"/><circle cx="699.4" cy="662.2" r="8.35"/><circle cx="703.0" cy="650.3" r="8.35"/><circle cx="706.0" cy="656.1" r="8.35"/><circle cx="709.1" cy="657.4" r="8.35"/><circle cx="712.3" cy="658.4" r="8.35"/><circle cx="714.5" cy="667.3" r="8.35"/><circle cx="719.0" cy="656.2" r="8.35"/><circle cx="719.3" cy="678.9" r="8.35"/><circle cx="725.2" cy="659.0" r="8.35"/><circle cx="726.7" cy="670.6" r="8.35"/><circle cx="733.1" cy="649.3" r="8.35"/><circle cx="732.9" cy="672.0" r="8.35"/><circle cx="739.0" cy="653.4" r="8.35"/><circle cx="740.2" cy="666.6" r="8.35"/><circle cx="743.6" cy="665.3" r="8.35"/><circle cx="745.6" cy="673.2" r="8.35"/><circle cx="749.0" cy="671.8" r="8.35"/><circle cx="752.5" cy="670.3" r="8.35"/><circle cx="756.4" cy="666.1" r="8.35"/><circle cx="756.4" cy="685.4" r="8.35"/><circle cx="763.2" cy="664.4" r="8.35"/><circle cx="765.7" cy="669.1" r="8.35"/><circle cx="769.6" cy="665.4" r="8.35"/><circle cx="771.8" cy="671.4" r="8.35"/><circle cx="776.7" cy="662.2" r="8.35"/><circle cx="779.0" cy="667.7" r="8.35"/><circle cx="780.6" cy="676.4" r="8.35"/><circle cx="785.6" cy="667.4" r="8.35"/><circle cx="786.9" cy="677.3" r="8.35"/><circle cx="792.0" cy="668.6" r="8.35"/><circle cx="791.4" cy="687.1" r="8.35"/><circle cx="797.5" cy="674.0" r="8.35"/><circle cx="796.8" cy="691.4" r="8.35"/><circle cx="802.5" cy="681.0" r="8.35"/><circle cx="807.0" cy="676.3" r="8.35"/><circle cx="807.7" cy="686.6" r="8.35"/><circle cx="810.3" cy="689.3" r="8.35"/><circle cx="812.5" cy="693.3" r="8.35"/><circle cx="816.0" cy="693.0" r="8.35"/><circle cx="820.3" cy="689.5" r="8.35"/><circle cx="828.5" cy="672.4" r="8.35"/><circle cx="826.5" cy="691.6" r="8.35"/><circle cx="832.2" cy="683.6" r="8.35"/><circle cx="834.1" cy="688.8" r="8.35"/><circle cx="835.0" cy="697.2" r="8.35"/><circle cx="843.3" cy="680.9" r="8.35"/><circle cx="841.1" cy="699.6" r="8.35"/><circle cx="840.4" cy="713.2" r="8.35"/><circle cx="849.2" cy="695.6" r="8.35"/><circle cx="855.0" cy="687.8" r="8.35"/><circle cx="852.9" cy="705.8" r="8.35"/><circle cx="859.8" cy="694.7" r="8.35"/><circle cx="860.0" cy="704.5" r="8.35"/><circle cx="862.4" cy="707.6" r="8.35"/><circle cx="875.0" cy="680.9" r="8.35"/><circle cx="871.9" cy="700.4" r="8.35"/><circle cx="881.4" cy="683.0" r="8.35"/><circle cx="881.7" cy="692.3" r="8.35"/><circle cx="880.4" cy="706.5" r="8.35"/><circle cx="889.5" cy="689.4" r="8.35"/><circle cx="891.0" cy="695.1" r="8.35"/><circle cx="893.3" cy="698.7" r="8.35"/><circle cx="894.1" cy="707.4" r="8.35"/><circle cx="897.2" cy="708.7" r="8.35"/><circle cx="900.1" cy="710.5" r="8.35"/><circle cx="905.9" cy="701.7" r="8.35"/><circle cx="909.7" cy="700.0" r="8.35"/><circle cx="909.8" cy="712.7" r="8.35"/><circle cx="916.2" cy="700.3" r="8.35"/><circle cx="919.1" cy="701.7" r="8.35"/><circle cx="918.6" cy="718.0" r="8.35"/><circle cx="925.3" cy="703.3" r="8.35"/><circle cx="928.6" cy="702.8" r="8.35"/><circle cx="927.4" cy="724.5" r="8.35"/><circle cx="933.0" cy="713.0" r="8.35"/><circle cx="940.6" cy="690.9" r="8.35"/><circle cx="940.7" cy="706.8" r="8.35"/><circle cx="938.5" cy="735.5" r="8.35"/><circle cx="939.9" cy="745.3" r="8.35"/><circle cx="949.3" cy="713.3" r="8.35"/><circle cx="950.4" cy="724.3" r="8.35"/><circle cx="953.5" cy="725.3" r="8.35"/></g>
<path d="M230.0 800.0L230.4 797.3L230.8 794.6L231.2 791.9L231.6 789.2L232.0 786.6L232.4 783.9L232.8 781.2L233.2 778.4L233.7 775.6L234.1 772.8L234.5 769.8L235.0 766.8L235.6 762.8L236.3 758.6L236.9 754.3L237.6 749.9L238.3 745.4L239.1 740.8L239.8 736.2L240.5 731.6L241.2 727.1L241.9 722.6L242.5 718.2L243.2 714.0L243.7 710.3L244.2 706.7L244.7 703.0L245.1 699.4L245.6 695.9L246.0 692.3L246.5 688.8L247.0 685.4L247.4 682.0L247.9 678.6L248.4 675.3L248.9 672.0L249.4 669.2L249.9 666.3L250.5 663.5L251.0 660.7L251.6 658.0L252.1 655.3L252.7 652.6L253.2 649.9L253.8 647.4L254.3 644.9L254.8 642.4L255.2 640.0L255.6 638.2L255.9 636.4L256.2 634.8L256.5 633.1L256.8 631.5L257.1 630.0L257.4 628.4L257.6 626.8L257.9 625.2L258.2 623.5L258.5 621.8L258.8 620.0L259.1 617.7L259.5 615.3L259.8 612.9L260.2 610.4L260.5 607.9L260.9 605.3L261.2 602.7L261.6 600.2L261.9 597.6L262.2 595.0L262.6 592.5L262.9 590.0L263.2 587.6L263.5 585.2L263.8 582.9L264.1 580.5L264.3 578.1L264.6 575.8L264.9 573.4L265.2 571.1L265.5 568.8L265.8 566.5L266.1 564.2L266.5 562.0L266.9 560.0L267.2 558.1L267.6 556.2L268.0 554.3L268.4 552.5L268.8 550.7L269.2 548.8L269.7 546.9L270.1 544.9L270.6 542.9L271.0 540.8L271.5 538.5L272.2 535.0L272.9 531.1L273.7 527.0L274.5 522.6L275.3 518.2L276.1 513.7L276.9 509.2L277.8 504.7L278.6 500.5L279.5 496.4L280.4 492.6L281.3 489.2L281.9 487.1L282.4 485.0L283.0 483.0L283.5 481.1L284.0 479.2L284.6 477.4L285.1 475.7L285.8 474.0L286.5 472.4L287.2 470.9L288.1 469.4L289.0 468.0L289.9 466.8L290.9 465.5L292.0 464.2L293.2 463.0L294.4 461.8L295.6 460.7L296.9 459.7L298.1 458.8L299.4 458.0L300.6 457.5L301.8 457.1L303.0 457.0L304.1 457.1L305.2 457.4L306.4 457.9L307.5 458.6L308.7 459.4L309.8 460.3L310.9 461.3L312.0 462.4L313.0 463.6L314.1 464.7L315.1 465.9L316.0 467.0L317.0 468.3L318.0 469.7L318.9 471.2L319.8 472.7L320.6 474.3L321.4 475.9L322.2 477.6L323.0 479.4L323.7 481.2L324.5 483.1L325.2 485.0L326.0 487.0L327.1 490.0L328.2 493.3L329.3 496.7L330.3 500.4L331.4 504.2L332.4 508.0L333.4 511.9L334.4 515.7L335.3 519.5L336.2 523.2L337.1 526.7L338.0 530.0L338.7 532.6L339.3 535.1L339.9 537.6L340.5 540.0L341.1 542.4L341.6 544.8L342.2 547.1L342.7 549.4L343.3 551.6L343.8 553.8L344.4 555.9L345.0 558.0L345.5 559.6L345.9 561.1L346.4 562.7L346.9 564.2L347.3 565.6L347.8 567.1L348.3 568.5L348.8 569.8L349.3 571.2L349.9 572.5L350.4 573.8L351.0 575.0L351.5 576.0L352.0 577.1L352.6 578.0L353.1 579.0L353.6 580.0L354.2 580.9L354.8 581.8L355.4 582.7L356.0 583.5L356.6 584.4L357.3 585.2L358.0 586.0L358.7 586.8L359.5 587.5L360.2 588.2L361.0 588.9L361.8 589.6L362.7 590.3L363.5 590.9L364.4 591.6L365.3 592.2L366.2 592.8L367.1 593.4L368.0 594.0L369.0 594.6L370.1 595.3L371.1 595.9L372.2 596.5L373.3 597.0L374.4 597.6L375.6 598.2L376.7 598.7L377.9 599.3L379.1 599.9L380.3 600.4L381.6 601.0L383.2 601.7L384.8 602.4L386.5 603.1L388.2 603.8L390.0 604.5L391.7 605.2L393.5 605.9L395.3 606.6L397.1 607.3L398.9 608.0L400.7 608.7L402.4 609.5L404.1 610.3L405.9 611.1L407.6 611.9L409.3 612.8L411.0 613.6L412.7 614.5L414.4 615.4L416.1 616.2L417.8 617.1L419.5 617.9L421.3 618.7L423.0 619.5L424.7 620.3L426.5 621.0L428.3 621.8L430.1 622.5L431.9 623.3L433.7 624.0L435.5 624.7L437.3 625.5L439.0 626.2L440.7 626.9L442.3 627.5L443.9 628.2L445.1 628.7L446.2 629.2L447.3 629.8L448.4 630.3L449.4 630.8L450.5 631.3L451.5 631.8L452.5 632.3L453.5 632.7L454.6 633.2L455.6 633.6L456.7 634.0L457.8 634.4L458.8 634.7L459.9 635.0L461.0 635.4L462.1 635.6L463.1 635.9L464.2 636.2L465.3 636.5L466.5 636.7L467.6 637.0L468.8 637.2L470.0 637.5L471.5 637.8L473.1 638.2L474.7 638.5L476.4 638.9L478.1 639.3L479.9 639.6L481.6 639.9L483.3 640.2L485.0 640.5L486.7 640.7L488.4 640.9L490.0 641.0L491.4 641.1L492.9 641.1L494.4 641.1L495.8 641.0L497.3 640.9L498.7 640.8L500.1 640.7L501.5 640.6L502.8 640.5L504.0 640.4L505.2 640.3L506.3 640.2L507.0 640.2L507.6 640.1L508.2 640.1L508.8 640.1L509.3 640.1L509.8 640.0L510.4 640.0L510.9 640.0L511.4 640.0L511.9 639.9L512.5 639.9L513.0 639.9" fill="none" stroke="#00ff00" stroke-width="11.8" stroke-linecap="round" stroke-linejoin="round"/>
<path d="M236.0 800.0L236.4 797.3L236.8 794.6L237.2 792.0L237.6 789.4L238.1 786.8L238.5 784.2L238.9 781.5L239.3 778.8L239.7 776.0L240.1 773.0L240.6 770.0L241.0 766.8L241.6 761.9L242.3 756.7L242.9 751.3L243.6 745.7L244.2 739.8L244.9 733.9L245.6 727.8L246.3 721.7L247.0 715.6L247.7 709.6L248.4 703.6L249.1 697.8L249.8 692.0L250.6 686.1L251.4 680.2L252.2 674.2L252.9 668.2L253.7 662.2L254.5 656.4L255.3 650.6L256.1 644.9L256.8 639.4L257.5 634.0L258.2 628.9L258.7 625.1L259.2 621.3L259.7 617.6L260.1 614.0L260.6 610.5L261.0 607.0L261.5 603.6L261.9 600.3L262.3 597.1L262.7 593.9L263.1 590.8L263.5 587.7L263.8 585.3L264.1 583.1L264.3 580.8L264.6 578.6L264.8 576.5L265.0 574.4L265.3 572.3L265.5 570.2L265.8 568.2L266.1 566.1L266.4 564.1L266.7 562.0L267.0 560.0L267.4 558.1L267.8 556.2L268.2 554.4L268.6 552.6L269.0 550.7L269.4 548.8L269.9 546.9L270.3 545.0L270.8 542.9L271.2 540.8L271.7 538.5L272.4 535.0L273.1 531.1L273.8 526.9L274.6 522.6L275.4 518.1L276.2 513.6L277.0 509.1L277.8 504.6L278.7 500.4L279.6 496.3L280.5 492.6L281.5 489.2L282.1 487.1L282.7 485.1L283.3 483.2L283.9 481.4L284.5 479.6L285.2 477.8L285.8 476.2L286.5 474.6L287.3 473.1L288.1 471.6L289.0 470.3L290.0 469.0L290.9 467.9L291.9 466.8L293.0 465.8L294.1 464.7L295.2 463.8L296.4 462.8L297.6 462.0L298.7 461.3L299.9 460.8L301.1 460.3L302.2 460.1L303.3 460.0L304.3 460.1L305.3 460.4L306.4 460.9L307.4 461.5L308.4 462.2L309.4 463.0L310.4 463.9L311.4 464.9L312.3 465.9L313.3 466.9L314.1 468.0L315.0 469.0L316.0 470.3L316.9 471.7L317.8 473.1L318.6 474.6L319.5 476.2L320.2 477.8L321.0 479.6L321.7 481.4L322.5 483.2L323.2 485.1L323.9 487.1L324.7 489.2L325.9 492.6L327.1 496.3L328.3 500.4L329.5 504.7L330.8 509.1L331.9 513.7L333.1 518.2L334.2 522.7L335.2 527.0L336.2 531.2L337.0 535.0L337.8 538.5L338.2 540.6L338.6 542.5L339.0 544.4L339.3 546.2L339.6 547.9L339.9 549.6L340.1 551.3L340.4 552.9L340.6 554.6L340.9 556.4L341.1 558.1L341.4 560.0L341.7 562.2L342.0 564.4L342.2 566.7L342.5 569.1L342.7 571.4L343.0 573.8L343.2 576.2L343.5 578.6L343.7 580.9L344.0 583.2L344.4 585.5L344.7 587.7L345.0 589.6L345.4 591.5L345.8 593.3L346.2 595.1L346.6 596.8L347.0 598.6L347.4 600.3L347.8 602.1L348.2 604.0L348.7 605.9L349.1 607.9L349.5 610.0L350.1 613.1L350.7 616.3L351.3 619.7L351.9 623.2L352.5 626.7L353.1 630.4L353.7 634.1L354.3 637.8L354.9 641.6L355.6 645.3L356.2 648.9L356.8 652.5L357.4 656.1L358.1 659.8L358.7 663.5L359.4 667.3L360.1 671.0L360.7 674.8L361.4 678.4L362.0 682.0L362.6 685.5L363.2 688.7L363.8 691.8L364.3 694.7L364.6 696.4L364.9 698.1L365.2 699.6L365.4 701.2L365.7 702.6L366.0 704.0L366.2 705.4L366.4 706.8L366.7 708.1L367.0 709.4L367.2 710.7L367.5 712.0L367.7 713.1L368.0 714.2L368.2 715.2L368.4 716.3L368.7 717.3L368.9 718.3L369.1 719.3L369.4 720.3L369.7 721.2L369.9 722.2L370.2 723.1L370.5 724.0L370.8 724.7L371.0 725.5L371.3 726.2L371.5 726.9L371.8 727.6L372.1 728.3L372.3 728.9L372.6 729.6L373.0 730.2L373.3 730.8L373.6 731.4L374.0 732.0L374.3 732.5L374.7 733.0L375.1 733.5L375.5 734.0L375.9 734.5L376.3 734.9L376.7 735.4L377.1 735.8L377.6 736.2L378.0 736.5L378.5 736.9L379.0 737.2L379.5 737.5L380.0 737.7L380.6 738.0L381.1 738.2L381.6 738.4L382.2 738.5L382.8 738.7L383.4 738.8L384.0 739.0L384.7 739.1L385.3 739.2L386.0 739.3L387.0 739.4L388.0 739.6L389.1 739.6L390.2 739.7L391.4 739.7L392.5 739.8L393.7 739.8L395.0 739.8L396.2 739.8L397.5 739.8L398.7 739.8L400.0 739.8L401.5 739.8L403.0 739.8L404.6 739.9L406.1 739.9L407.7 739.9L409.3 739.9L411.0 739.9L412.7 739.9L414.4 739.9L416.2 739.9L418.1 739.8L420.0 739.8L422.9 739.7L426.0 739.7L429.2 739.6L432.6 739.5L436.1 739.4L439.7 739.2L443.3 739.1L446.8 739.0L450.3 738.9L453.7 738.7L456.9 738.6L460.0 738.5L462.3 738.4L464.5 738.3L466.6 738.2L468.7 738.1L470.7 738.0L472.8 737.9L474.8 737.8L476.8 737.7L478.9 737.6L481.0 737.6L483.2 737.5L485.5 737.5L488.5 737.5L491.6 737.5L494.8 737.6L498.0 737.6L501.3 737.7L504.7 737.8L508.1 738.0L511.5 738.1L514.9 738.2L518.3 738.3L521.7 738.4L525.0 738.5" fill="none" stroke="#0000ff" stroke-width="11.8" stroke-linecap="round" stroke-linejoin="round"/>
<path d="M250.0 800.0L250.6 797.2L251.1 794.4L251.7 791.6L252.2 788.8L252.7 786.0L253.3 783.2L253.8 780.4L254.4 777.6L255.0 774.8L255.6 772.0L256.3 769.3L257.0 766.5L257.8 763.7L258.6 761.0L259.4 758.2L260.3 755.5L261.2 752.7L262.2 750.0L263.1 747.3L264.1 744.5L265.1 741.8L266.1 739.0L267.0 736.3L268.0 733.5L269.0 730.6L270.0 727.7L271.0 724.7L272.0 721.8L273.0 718.9L274.0 715.9L275.0 712.9L276.1 710.0L277.1 707.1L278.2 704.1L279.4 701.2L280.5 698.3L281.7 695.4L282.9 692.4L284.2 689.5L285.5 686.5L286.8 683.6L288.1 680.7L289.4 677.8L290.7 674.9L292.1 672.1L293.4 669.3L294.7 666.6L296.0 664.0L297.1 661.8L298.2 659.7L299.2 657.5L300.3 655.4L301.3 653.4L302.4 651.3L303.4 649.3L304.5 647.4L305.6 645.5L306.7 643.6L307.8 641.8L309.0 640.0L310.0 638.5L311.1 637.0L312.1 635.6L313.1 634.1L314.2 632.7L315.3 631.4L316.4 630.0L317.5 628.8L318.6 627.5L319.7 626.3L320.8 625.1L322.0 624.0L323.0 623.0L324.1 622.1L325.1 621.2L326.2 620.4L327.2 619.6L328.3 618.8L329.4 618.0L330.5 617.2L331.6 616.5L332.7 615.8L333.8 615.2L335.0 614.5L336.2 613.9L337.4 613.3L338.6 612.7L339.8 612.1L341.0 611.6L342.3 611.0L343.5 610.6L344.8 610.1L346.1 609.6L347.4 609.2L348.7 608.9L350.0 608.5L351.4 608.2L352.8 607.8L354.2 607.6L355.6 607.3L357.0 607.1L358.5 606.8L359.9 606.7L361.4 606.5L362.8 606.4L364.2 606.3L365.6 606.3L367.0 606.3L368.3 606.3L369.6 606.4L370.8 606.5L372.1 606.6L373.4 606.7L374.6 606.9L375.9 607.1L377.1 607.3L378.4 607.6L379.6 607.9L380.8 608.2L382.0 608.6L383.2 609.0L384.4 609.5L385.7 610.0L386.9 610.6L388.1 611.2L389.3 611.8L390.4 612.5L391.6 613.2L392.7 613.9L393.9 614.6L394.9 615.3L396.0 616.0L397.0 616.7L397.9 617.4L398.8 618.0L399.7 618.8L400.5 619.5L401.4 620.2L402.2 621.0L403.0 621.7L403.9 622.5L404.7 623.3L405.5 624.1L406.4 625.0L407.4 626.0L408.3 627.0L409.3 628.1L410.3 629.2L411.3 630.3L412.2 631.5L413.2 632.6L414.2 633.8L415.1 635.0L416.1 636.1L417.0 637.3L418.0 638.5L419.0 639.7L420.0 641.0L421.0 642.3L422.0 643.6L423.0 644.8L424.0 646.1L425.0 647.4L426.0 648.8L427.0 650.1L428.0 651.4L429.0 652.7L430.0 654.0L431.0 655.3L432.0 656.6L433.0 658.0L434.0 659.3L435.0 660.7L436.0 662.0L437.0 663.3L438.0 664.7L438.9 666.0L439.9 667.3L440.9 668.7L441.8 670.0L442.7 671.3L443.6 672.5L444.4 673.8L445.3 675.0L446.1 676.3L446.9 677.5L447.8 678.8L448.6 680.0L449.5 681.3L450.3 682.5L451.1 683.8L452.0 685.0L452.9 686.3L453.7 687.5L454.6 688.8L455.5 690.1L456.4 691.4L457.3 692.7L458.2 694.0L459.1 695.2L460.0 696.5L460.8 697.7L461.7 698.9L462.5 700.0L463.2 700.9L463.8 701.8L464.5 702.7L465.2 703.5L465.8 704.3L466.4 705.1L467.1 706.0L467.7 706.8L468.3 707.6L469.0 708.4L469.6 709.2L470.3 710.0L471.0 710.8L471.6 711.7L472.3 712.6L472.9 713.4L473.6 714.3L474.3 715.2L474.9 716.0L475.6 716.9L476.3 717.7L477.0 718.5L477.8 719.3L478.5 720.0L479.2 720.7L480.0 721.3L480.7 722.0L481.5 722.6L482.2 723.2L483.0 723.8L483.8 724.4L484.6 725.0L485.4 725.5L486.3 726.0L487.1 726.5L488.0 727.0L488.9 727.5L489.9 727.9L490.8 728.4L491.8 728.8L492.8 729.2L493.8 729.6L494.8 730.0L495.8 730.3L496.8 730.6L497.9 730.9L498.9 731.2L500.0 731.5L501.2 731.8L502.4 732.0L503.6 732.2L504.8 732.4L506.1 732.6L507.4 732.7L508.6 732.8L509.9 732.9L511.2 733.0L512.5 733.1L513.7 733.2L515.0 733.3L516.2 733.4L517.4 733.4L518.5 733.5L519.6 733.5L520.7 733.5L521.8 733.5L523.0 733.5L524.2 733.5L525.5 733.5L526.9 733.5L528.4 733.5L530.0 733.5L534.0 733.5L538.4 733.5L543.4 733.5L548.7 733.4L554.4 733.4L560.4 733.3L566.6 733.2L573.1 733.2L579.7 733.1L586.4 733.0L593.2 732.9L600.0 732.8L609.8 732.6L620.4 732.4L631.7 732.2L643.3 731.9L655.3 731.6L667.5 731.3L679.6 731.0L691.5 730.8L703.1 730.5L714.3 730.3L724.7 730.1L734.4 730.0L740.6 729.9L746.4 729.9L751.8 729.9L757.0 729.9L762.0 729.9L767.0 729.9L772.0 729.9L777.0 730.0L782.3 730.0L787.8 730.0L793.7 730.0L800.0 730.0L810.3 730.0L821.4 730.0L833.1 729.9L845.3 729.9L858.0 729.8L871.0 729.8L884.1 729.7L897.4 729.7L910.7 729.6L923.9 729.6L936.8 729.5L949.5 729.5" fill="none" stroke="#008000" stroke-width="11.8" stroke-linecap="round" stroke-linejoin="round"/>
<circle cx="633.8" cy="646.2" r="5.6" fill="#00ff00"/>
<path d="M268.0 800.0L269.0 797.3L270.0 794.4L270.9 791.6L271.9 788.7L272.9 785.8L273.9 783.0L274.8 780.1L275.8 777.4L276.8 774.7L277.8 772.2L278.8 769.8L279.8 767.5L280.5 766.0L281.3 764.5L282.0 763.2L282.8 761.9L283.5 760.6L284.3 759.4L285.0 758.2L285.8 757.0L286.5 755.8L287.3 754.5L288.0 753.3L288.7 752.0L289.4 750.7L290.1 749.4L290.8 748.0L291.4 746.7L292.1 745.4L292.7 744.0L293.4 742.7L294.0 741.3L294.7 740.0L295.4 738.7L296.1 737.3L296.8 736.0L297.5 734.7L298.3 733.3L299.0 731.9L299.7 730.6L300.5 729.2L301.2 727.9L302.0 726.5L302.8 725.2L303.6 723.9L304.5 722.6L305.4 721.3L306.3 720.0L307.3 718.7L308.4 717.4L309.5 716.0L310.6 714.7L311.7 713.5L312.9 712.2L314.1 710.9L315.4 709.7L316.6 708.5L317.9 707.3L319.3 706.1L320.6 705.0L322.1 703.8L323.6 702.6L325.3 701.4L326.9 700.2L328.7 699.1L330.4 697.9L332.1 696.8L333.8 695.8L335.4 694.8L337.0 693.9L338.6 693.1L340.0 692.3L340.9 691.8L341.8 691.4L342.7 691.0L343.5 690.7L344.3 690.4L345.2 690.1L346.0 689.8L346.8 689.5L347.6 689.2L348.4 689.0L349.2 688.7L350.0 688.4L350.8 688.1L351.6 687.8L352.4 687.6L353.2 687.4L354.0 687.1L354.8 686.9L355.6 686.6L356.4 686.4L357.3 686.1L358.1 685.8L359.0 685.5L360.0 685.1L361.5 684.5L363.1 683.8L364.7 683.1L366.4 682.3L368.2 681.4L370.0 680.6L371.9 679.7L373.7 678.8L375.6 678.0L377.4 677.1L379.2 676.3L381.0 675.5L382.7 674.8L384.5 674.0L386.2 673.3L388.0 672.6L389.7 671.8L391.5 671.1L393.2 670.4L395.0 669.7L396.7 669.0L398.5 668.4L400.2 667.7L402.0 667.0L403.8 666.3L405.5 665.7L407.3 665.0L409.0 664.3L410.8 663.7L412.5 663.0L414.3 662.4L416.0 661.8L417.8 661.2L419.6 660.6L421.3 660.0L423.1 659.4L424.8 658.8L426.6 658.3L428.3 657.8L430.1 657.3L431.8 656.8L433.5 656.3L435.3 655.8L437.0 655.3L438.8 654.8L440.5 654.4L442.3 653.9L444.0 653.5L445.7 653.1L447.5 652.7L449.2 652.3L450.9 651.9L452.7 651.5L454.4 651.1L456.2 650.8L457.9 650.4L459.6 650.1L461.3 649.7L463.0 649.4L464.7 649.0L466.3 648.7L467.8 648.4L469.3 648.0L470.8 647.7L472.3 647.4L473.8 647.1L475.3 646.8L476.8 646.5L478.3 646.2L479.8 645.9L481.4 645.6L483.0 645.3L484.8 644.9L486.7 644.6L488.6 644.2L490.4 643.8L492.4 643.5L494.3 643.1L496.2 642.7L498.2 642.4L500.2 642.1L502.2 641.7L504.2 641.5L506.3 641.2L508.6 640.9L511.0 640.7L513.5 640.5L516.0 640.3L518.5 640.1L521.1 640.0L523.6 639.9L526.1 639.8L528.6 639.7L531.1 639.6L533.5 639.5L535.8 639.5L537.8 639.5L539.7 639.4L541.6 639.4L543.4 639.4L545.3 639.4L547.1 639.5L548.9 639.5L550.8 639.6L552.6 639.7L554.6 639.8L556.5 640.0L558.6 640.2L561.3 640.5L564.0 640.9L566.7 641.4L569.6 641.9L572.5 642.5L575.4 643.1L578.4 643.7L581.4 644.4L584.4 645.0L587.5 645.7L590.6 646.4L593.7 647.0L597.4 647.7L601.1 648.4L605.0 649.2L608.9 649.9L612.8 650.6L616.8 651.4L620.8 652.2L624.8 653.0L628.8 653.9L632.7 654.8L636.7 655.8L640.6 656.8L644.5 657.9L648.5 659.0L652.5 660.2L656.4 661.5L660.4 662.7L664.3 664.0L668.2 665.4L672.1 666.8L676.0 668.2L679.9 669.6L683.7 671.1L687.5 672.6L691.1 674.1L694.7 675.7L698.3 677.4L701.8 679.2L705.3 681.0L708.7 682.7L712.2 684.5L715.7 686.3L719.2 688.0L722.8 689.6L726.3 691.2L730.0 692.6L733.8 694.0L737.6 695.2L741.5 696.4L745.4 697.6L749.3 698.7L753.2 699.7L757.2 700.7L761.1 701.8L765.1 702.8L769.0 703.8L773.0 704.8L776.9 705.9L780.8 707.0L784.7 708.1L788.6 709.3L792.5 710.4L796.4 711.6L800.3 712.7L804.2 713.9L808.1 714.9L812.0 716.0L815.9 717.0L819.8 717.9L823.7 718.8L827.6 719.6L831.5 720.4L835.4 721.1L839.3 721.7L843.2 722.4L847.1 723.0L851.0 723.5L854.9 724.0L858.8 724.5L862.8 725.0L866.7 725.5L870.6 725.9L874.5 726.3L878.5 726.7L882.5 727.0L886.5 727.3L890.6 727.6L894.6 727.9L898.6 728.1L902.5 728.3L906.4 728.5L910.2 728.6L913.9 728.8L917.5 728.9L920.4 729.0L923.2 729.0L925.9 729.1L928.6 729.1L931.3 729.1L933.9 729.1L936.5 729.1L939.1 729.0L941.6 729.0L944.2 729.0L946.9 729.0L949.5 729.0" fill="none" stroke="#808080" stroke-width="11.8" stroke-linecap="round" stroke-linejoin="round"/>
</g>
<path d="M369.6 140.2L370.4 743.5" stroke="#008000" stroke-opacity="0.65" stroke-width="1.3"/>
<path d="M523 165.5V744.7" stroke="#808080" stroke-opacity="0.6" stroke-width="1.3"/>
<path d="M638.7 172V745.8" stroke="#ff00ff" stroke-opacity="0.85" stroke-width="1.2"/>
<path d="M149 22H1003.6V768.7H149Z M149 394.4H1003.6" fill="none" stroke="#4a4a4a" stroke-width="1.75" stroke-linejoin="round"/>
<path d="M149.0 393.40h8.5M149.0 356.13h4.0M149.0 334.33h4.0M149.0 318.86h4.0M149.0 306.87h4.0M149.0 297.06h4.0M149.0 288.78h4.0M149.0 281.60h4.0M149.0 275.26h4.0M149.0 269.60h8.5M149.0 232.33h4.0M149.0 210.53h4.0M149.0 195.06h4.0M149.0 183.07h4.0M149.0 173.26h4.0M149.0 164.98h4.0M149.0 157.80h4.0M149.0 151.46h4.0M149.0 145.80h8.5M149.0 108.53h4.0M149.0 86.73h4.0M149.0 71.26h4.0M149.0 59.27h4.0M149.0 49.46h4.0M149.0 41.18h4.0M149.0 34.00h4.0M149.0 27.66h4.0M149.0 730.65h4.0M149.0 708.39h4.0M149.0 692.60h4.0M149.0 680.35h4.0M149.0 670.34h4.0M149.0 661.88h4.0M149.0 654.55h4.0M149.0 648.08h4.0M149.0 642.30h8.5M149.0 603.74h4.0M149.0 581.18h4.0M149.0 565.18h4.0M149.0 552.76h4.0M149.0 542.62h4.0M149.0 534.04h4.0M149.0 526.61h4.0M149.0 520.06h4.0M149.0 514.20h8.5M149.0 476.27h4.0M149.0 454.08h4.0M149.0 438.34h4.0M149.0 426.13h4.0M149.0 416.15h4.0M149.0 407.72h4.0M149.0 400.41h4.0M214.70 768.7v-4.0M214.70 394.4v-4.0M345.80 768.7v-8.5M345.80 394.4v-8.5M477.70 768.7v-4.0M477.70 394.4v-4.0M609.60 768.7v-8.5M609.60 394.4v-8.5M740.50 768.7v-4.0M740.50 394.4v-4.0M871.50 768.7v-8.5M871.50 394.4v-8.5" fill="none" stroke="#4a4a4a" stroke-width="1.6"/>
<g font-family="Liberation Sans, sans-serif"><g transform="translate(66.70 163.90) scale(1 1.040)" font-size="49.50" font-weight="normal" fill="#000"><path transform="translate(0.00 0) scale(0.02417 -0.02417)" d="M749 0L749 1409L640 1409Q540 1200 225 1050L225 905Q420 980 559 1110L559 0Z"/><text x="27.53" y="0" xml:space="preserve">0</text></g>
<g transform="translate(122.70 136.40) scale(1 1.040)" font-size="28.50" font-weight="normal" fill="#000"><text x="0.00" y="0" xml:space="preserve">3</text></g>
<g transform="translate(66.70 288.40) scale(1 1.040)" font-size="49.50" font-weight="normal" fill="#000"><path transform="translate(0.00 0) scale(0.02417 -0.02417)" d="M749 0L749 1409L640 1409Q540 1200 225 1050L225 905Q420 980 559 1110L559 0Z"/><text x="27.53" y="0" xml:space="preserve">0</text></g>
<g transform="translate(122.70 260.90) scale(1 1.040)" font-size="28.50" font-weight="normal" fill="#000"><text x="0.00" y="0" xml:space="preserve">2</text></g>
<g transform="translate(66.70 412.50) scale(1 1.040)" font-size="49.50" font-weight="normal" fill="#000"><path transform="translate(0.00 0) scale(0.02417 -0.02417)" d="M749 0L749 1409L640 1409Q540 1200 225 1050L225 905Q420 980 559 1110L559 0Z"/><text x="27.53" y="0" xml:space="preserve">0</text></g>
<g transform="translate(122.70 385.50) scale(1 1.040)" font-size="28.50" font-weight="normal" fill="#000"><path transform="translate(0.00 0) scale(0.01392 -0.01392)" d="M749 0L749 1409L640 1409Q540 1200 225 1050L225 905Q420 980 559 1110L559 0Z"/></g>
<g transform="translate(66.70 533.00) scale(1 1.040)" font-size="49.50" font-weight="normal" fill="#000"><path transform="translate(0.00 0) scale(0.02417 -0.02417)" d="M749 0L749 1409L640 1409Q540 1200 225 1050L225 905Q420 980 559 1110L559 0Z"/><text x="27.53" y="0" xml:space="preserve">0</text></g>
<g transform="translate(122.70 505.20) scale(1 1.040)" font-size="28.50" font-weight="normal" fill="#000"><text x="0.00" y="0" xml:space="preserve">3</text></g>
<g transform="translate(66.70 660.30) scale(1 1.040)" font-size="49.50" font-weight="normal" fill="#000"><path transform="translate(0.00 0) scale(0.02417 -0.02417)" d="M749 0L749 1409L640 1409Q540 1200 225 1050L225 905Q420 980 559 1110L559 0Z"/><text x="27.53" y="0" xml:space="preserve">0</text></g>
<g transform="translate(122.70 633.30) scale(1 1.040)" font-size="28.50" font-weight="normal" fill="#000"><text x="0.00" y="0" xml:space="preserve">2</text></g>
<g transform="translate(66.70 786.80) scale(1 1.040)" font-size="49.50" font-weight="normal" fill="#000"><path transform="translate(0.00 0) scale(0.02417 -0.02417)" d="M749 0L749 1409L640 1409Q540 1200 225 1050L225 905Q420 980 559 1110L559 0Z"/><text x="27.53" y="0" xml:space="preserve">0</text></g>
<g transform="translate(122.70 760.30) scale(1 1.040)" font-size="28.50" font-weight="normal" fill="#000"><path transform="translate(0.00 0) scale(0.01392 -0.01392)" d="M749 0L749 1409L640 1409Q540 1200 225 1050L225 905Q420 980 559 1110L559 0Z"/></g>
<g transform="translate(345.30 816.80) scale(1 1.040)" font-size="50.00" font-weight="normal" fill="#000"><text x="-41.71" y="0" xml:space="preserve">400</text></g>
<g transform="translate(608.20 816.80) scale(1 1.040)" font-size="50.00" font-weight="normal" fill="#000"><text x="-41.71" y="0" xml:space="preserve">500</text></g>
<g transform="translate(871.10 816.80) scale(1 1.040)" font-size="50.00" font-weight="normal" fill="#000"><text x="-41.71" y="0" xml:space="preserve">600</text></g>
<g transform="translate(387.10 888.80) scale(1 1.015)" font-size="49.60" font-weight="normal" fill="#000"><text x="0.00" y="0" xml:space="preserve">Wavelength (nm)</text></g>
<g transform="translate(45.10 564.50) rotate(-90.00) scale(1 1.030)" font-size="49.50" font-weight="normal" fill="#000"><text x="0.00" y="0" xml:space="preserve">Intensity (a.u.)</text></g>
<g transform="translate(647.30 70.80)" font-size="48.00" font-weight="bold" fill="#ff0000"><text x="0.00" y="0" xml:space="preserve">Plasma-treated</text></g>
<g transform="translate(770.00 448.00) scale(1 1.020)" font-size="47.60" font-weight="bold" fill="#000"><text x="0.00" y="0" xml:space="preserve">Untreated</text></g>
<g transform="translate(351.40 127.60) rotate(-15.00)" font-size="49.00" font-weight="bold" fill="#008000"><text x="0.00" y="0" xml:space="preserve">405 nm</text></g>
<g transform="translate(461.90 160.40) rotate(-15.00)" font-size="49.00" font-weight="bold" fill="#808080"><text x="0.00" y="0" xml:space="preserve">470 nm</text></g>
<g transform="translate(607.40 166.60) rotate(-15.00)" font-size="49.00" font-weight="bold" fill="#ff00ff"><text x="0.00" y="0">5</text><path transform="translate(27.25 0) scale(0.02393 -0.02393)" d="M770 0L770 1409L520 1409Q430 1240 140 1130L140 920Q340 980 490 1100L490 0Z"/><text x="54.50" y="0" xml:space="preserve">0 nm</text></g></g>
</svg>
</body></html>
